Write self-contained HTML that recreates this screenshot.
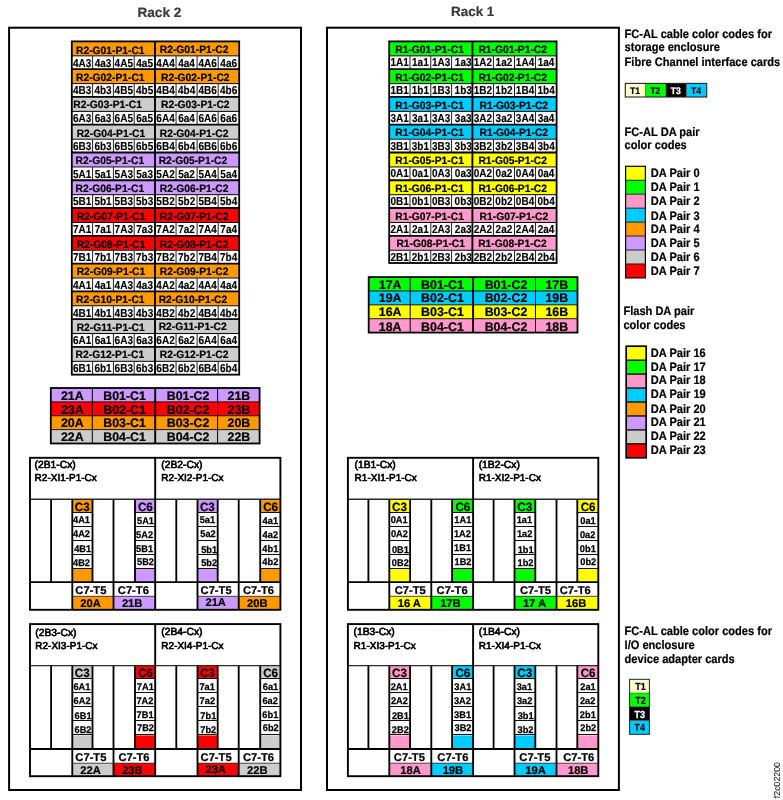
<!DOCTYPE html>
<html lang="en">
<head>
<meta charset="utf-8">
<title>FC-AL cable color codes</title>
<style>
html,body{margin:0;padding:0;background:#fff;}
body{width:783px;height:800px;overflow:hidden;}
svg{display:block;}
text{font-family:"Liberation Sans",Arial,Helvetica,sans-serif;text-rendering:geometricPrecision;}
text.b{font-weight:bold;stroke:#000;stroke-width:0.22px;}
text.w{font-weight:bold;fill:#fff;stroke:#fff;stroke-width:0.3px;}
text.t{font-weight:bold;fill:#3a3a3a;stroke:#3a3a3a;stroke-width:0.2px;}
text.r{font-weight:normal;stroke:#000;stroke-width:0.65px;}
text.f{font-weight:normal;fill:#222;stroke:#222;stroke-width:0.06px;}
text.d{font-weight:bold;stroke:#000;stroke-width:0.14px;}
text.c{font-weight:bold;stroke:#000;stroke-width:0.25px;}
</style>
</head>
<body>
<svg width="783" height="800" viewBox="0 0 783 800">
<rect x="0" y="0" width="783" height="800" fill="#fff"/>
<rect x="9.10" y="27.70" width="291.90" height="762.30" fill="#fff" stroke="#000" stroke-width="2.0"/>
<text class="t" x="159.40" y="16.70" font-size="13.6" text-anchor="middle">Rack 2</text>
<rect x="71.80" y="41.40" width="167.40" height="333.24" fill="#fff"/>
<rect x="71.80" y="41.40" width="167.40" height="14.10" fill="#ff9900"/>
<line x1="71.80" y1="55.85" x2="239.20" y2="55.85" stroke="#000" stroke-width="1.0"/>
<line x1="92.60" y1="55.90" x2="92.60" y2="69.17" stroke="#222" stroke-width="1.0"/>
<line x1="113.40" y1="55.90" x2="113.40" y2="69.17" stroke="#222" stroke-width="1.0"/>
<line x1="134.20" y1="55.90" x2="134.20" y2="69.17" stroke="#222" stroke-width="1.0"/>
<line x1="176.05" y1="55.90" x2="176.05" y2="69.17" stroke="#222" stroke-width="1.0"/>
<line x1="197.10" y1="55.90" x2="197.10" y2="69.17" stroke="#222" stroke-width="1.0"/>
<line x1="218.15" y1="55.90" x2="218.15" y2="69.17" stroke="#222" stroke-width="1.0"/>
<text class="b" font-size="10.7" text-anchor="start" transform="translate(76.00 54.00) scale(0.962 1)">R2-G01-P1-C1</text>
<text class="b" font-size="10.7" text-anchor="start" transform="translate(159.80 53.30) scale(0.962 1)">R2-G01-P1-C2</text>
<text class="d" font-size="11.5" text-anchor="middle" transform="translate(82.20 66.60) scale(0.87 1)">4A3</text>
<text class="d" font-size="11.5" text-anchor="middle" transform="translate(103.00 66.60) scale(0.87 1)">4a3</text>
<text class="d" font-size="11.5" text-anchor="middle" transform="translate(123.80 66.60) scale(0.87 1)">4A5</text>
<text class="d" font-size="11.5" text-anchor="middle" transform="translate(144.60 66.60) scale(0.87 1)">4a5</text>
<text class="d" font-size="11.5" text-anchor="middle" transform="translate(165.53 66.60) scale(0.87 1)">4A4</text>
<text class="d" font-size="11.5" text-anchor="middle" transform="translate(186.57 66.60) scale(0.87 1)">4a4</text>
<text class="d" font-size="11.5" text-anchor="middle" transform="translate(207.62 66.60) scale(0.87 1)">4A6</text>
<text class="d" font-size="11.5" text-anchor="middle" transform="translate(228.67 66.60) scale(0.87 1)">4a6</text>
<rect x="71.80" y="69.17" width="167.40" height="14.10" fill="#ff9900"/>
<line x1="71.80" y1="83.62" x2="239.20" y2="83.62" stroke="#000" stroke-width="1.0"/>
<line x1="92.60" y1="83.67" x2="92.60" y2="96.94" stroke="#222" stroke-width="1.0"/>
<line x1="113.40" y1="83.67" x2="113.40" y2="96.94" stroke="#222" stroke-width="1.0"/>
<line x1="134.20" y1="83.67" x2="134.20" y2="96.94" stroke="#222" stroke-width="1.0"/>
<line x1="176.05" y1="83.67" x2="176.05" y2="96.94" stroke="#222" stroke-width="1.0"/>
<line x1="197.10" y1="83.67" x2="197.10" y2="96.94" stroke="#222" stroke-width="1.0"/>
<line x1="218.15" y1="83.67" x2="218.15" y2="96.94" stroke="#222" stroke-width="1.0"/>
<text class="b" font-size="10.7" text-anchor="start" transform="translate(76.00 81.07) scale(0.962 1)">R2-G02-P1-C1</text>
<text class="b" font-size="10.7" text-anchor="start" transform="translate(161.00 80.87) scale(0.962 1)">R2-G02-P1-C2</text>
<text class="d" font-size="11.5" text-anchor="middle" transform="translate(82.20 94.37) scale(0.87 1)">4B3</text>
<text class="d" font-size="11.5" text-anchor="middle" transform="translate(103.00 94.37) scale(0.87 1)">4b3</text>
<text class="d" font-size="11.5" text-anchor="middle" transform="translate(123.80 94.37) scale(0.87 1)">4B5</text>
<text class="d" font-size="11.5" text-anchor="middle" transform="translate(144.60 94.37) scale(0.87 1)">4b5</text>
<text class="d" font-size="11.5" text-anchor="middle" transform="translate(165.53 94.37) scale(0.87 1)">4B4</text>
<text class="d" font-size="11.5" text-anchor="middle" transform="translate(186.57 94.37) scale(0.87 1)">4b4</text>
<text class="d" font-size="11.5" text-anchor="middle" transform="translate(207.62 94.37) scale(0.87 1)">4B6</text>
<text class="d" font-size="11.5" text-anchor="middle" transform="translate(228.67 94.37) scale(0.87 1)">4b6</text>
<rect x="71.80" y="96.94" width="167.40" height="14.10" fill="#cccccc"/>
<line x1="71.80" y1="111.39" x2="239.20" y2="111.39" stroke="#000" stroke-width="1.0"/>
<line x1="92.60" y1="111.44" x2="92.60" y2="124.71" stroke="#222" stroke-width="1.0"/>
<line x1="113.40" y1="111.44" x2="113.40" y2="124.71" stroke="#222" stroke-width="1.0"/>
<line x1="134.20" y1="111.44" x2="134.20" y2="124.71" stroke="#222" stroke-width="1.0"/>
<line x1="176.05" y1="111.44" x2="176.05" y2="124.71" stroke="#222" stroke-width="1.0"/>
<line x1="197.10" y1="111.44" x2="197.10" y2="124.71" stroke="#222" stroke-width="1.0"/>
<line x1="218.15" y1="111.44" x2="218.15" y2="124.71" stroke="#222" stroke-width="1.0"/>
<text class="b" font-size="10.7" text-anchor="start" transform="translate(73.30 108.14) scale(0.962 1)">R2-G03-P1-C1</text>
<text class="b" font-size="10.7" text-anchor="start" transform="translate(161.00 108.14) scale(0.962 1)">R2-G03-P1-C2</text>
<text class="d" font-size="11.5" text-anchor="middle" transform="translate(82.20 122.14) scale(0.87 1)">6A3</text>
<text class="d" font-size="11.5" text-anchor="middle" transform="translate(103.00 122.14) scale(0.87 1)">6a3</text>
<text class="d" font-size="11.5" text-anchor="middle" transform="translate(123.80 122.14) scale(0.87 1)">6A5</text>
<text class="d" font-size="11.5" text-anchor="middle" transform="translate(144.60 122.14) scale(0.87 1)">6a5</text>
<text class="d" font-size="11.5" text-anchor="middle" transform="translate(165.53 122.14) scale(0.87 1)">6A4</text>
<text class="d" font-size="11.5" text-anchor="middle" transform="translate(186.57 122.14) scale(0.87 1)">6a4</text>
<text class="d" font-size="11.5" text-anchor="middle" transform="translate(207.62 122.14) scale(0.87 1)">6A6</text>
<text class="d" font-size="11.5" text-anchor="middle" transform="translate(228.67 122.14) scale(0.87 1)">6a6</text>
<rect x="71.80" y="124.71" width="167.40" height="14.10" fill="#cccccc"/>
<line x1="71.80" y1="139.16" x2="239.20" y2="139.16" stroke="#000" stroke-width="1.0"/>
<line x1="92.60" y1="139.21" x2="92.60" y2="152.48" stroke="#222" stroke-width="1.0"/>
<line x1="113.40" y1="139.21" x2="113.40" y2="152.48" stroke="#222" stroke-width="1.0"/>
<line x1="134.20" y1="139.21" x2="134.20" y2="152.48" stroke="#222" stroke-width="1.0"/>
<line x1="176.05" y1="139.21" x2="176.05" y2="152.48" stroke="#222" stroke-width="1.0"/>
<line x1="197.10" y1="139.21" x2="197.10" y2="152.48" stroke="#222" stroke-width="1.0"/>
<line x1="218.15" y1="139.21" x2="218.15" y2="152.48" stroke="#222" stroke-width="1.0"/>
<text class="b" font-size="10.7" text-anchor="start" transform="translate(76.70 136.61) scale(0.962 1)">R2-G04-P1-C1</text>
<text class="b" font-size="10.7" text-anchor="start" transform="translate(159.80 136.61) scale(0.962 1)">R2-G04-P1-C2</text>
<text class="d" font-size="11.5" text-anchor="middle" transform="translate(82.20 149.91) scale(0.87 1)">6B3</text>
<text class="d" font-size="11.5" text-anchor="middle" transform="translate(103.00 149.91) scale(0.87 1)">6b3</text>
<text class="d" font-size="11.5" text-anchor="middle" transform="translate(123.80 149.91) scale(0.87 1)">6B5</text>
<text class="d" font-size="11.5" text-anchor="middle" transform="translate(144.60 149.91) scale(0.87 1)">6b5</text>
<text class="d" font-size="11.5" text-anchor="middle" transform="translate(165.53 149.91) scale(0.87 1)">6B4</text>
<text class="d" font-size="11.5" text-anchor="middle" transform="translate(186.57 149.91) scale(0.87 1)">6b4</text>
<text class="d" font-size="11.5" text-anchor="middle" transform="translate(207.62 149.91) scale(0.87 1)">6B6</text>
<text class="d" font-size="11.5" text-anchor="middle" transform="translate(228.67 149.91) scale(0.87 1)">6b6</text>
<rect x="71.80" y="152.48" width="167.40" height="14.10" fill="#cc99ff"/>
<line x1="71.80" y1="166.93" x2="239.20" y2="166.93" stroke="#000" stroke-width="1.0"/>
<line x1="92.60" y1="166.98" x2="92.60" y2="180.25" stroke="#222" stroke-width="1.0"/>
<line x1="113.40" y1="166.98" x2="113.40" y2="180.25" stroke="#222" stroke-width="1.0"/>
<line x1="134.20" y1="166.98" x2="134.20" y2="180.25" stroke="#222" stroke-width="1.0"/>
<line x1="176.05" y1="166.98" x2="176.05" y2="180.25" stroke="#222" stroke-width="1.0"/>
<line x1="197.10" y1="166.98" x2="197.10" y2="180.25" stroke="#222" stroke-width="1.0"/>
<line x1="218.15" y1="166.98" x2="218.15" y2="180.25" stroke="#222" stroke-width="1.0"/>
<text class="b" font-size="10.7" text-anchor="start" transform="translate(75.60 163.78) scale(0.962 1)">R2-G05-P1-C1</text>
<text class="b" font-size="10.7" text-anchor="start" transform="translate(158.70 164.38) scale(0.962 1)">R2-G05-P1-C2</text>
<text class="d" font-size="11.5" text-anchor="middle" transform="translate(82.20 177.68) scale(0.87 1)">5A1</text>
<text class="d" font-size="11.5" text-anchor="middle" transform="translate(103.00 177.68) scale(0.87 1)">5a1</text>
<text class="d" font-size="11.5" text-anchor="middle" transform="translate(123.80 177.68) scale(0.87 1)">5A3</text>
<text class="d" font-size="11.5" text-anchor="middle" transform="translate(144.60 177.68) scale(0.87 1)">5a3</text>
<text class="d" font-size="11.5" text-anchor="middle" transform="translate(165.53 177.68) scale(0.87 1)">5A2</text>
<text class="d" font-size="11.5" text-anchor="middle" transform="translate(186.57 177.68) scale(0.87 1)">5a2</text>
<text class="d" font-size="11.5" text-anchor="middle" transform="translate(207.62 177.68) scale(0.87 1)">5A4</text>
<text class="d" font-size="11.5" text-anchor="middle" transform="translate(228.67 177.68) scale(0.87 1)">5a4</text>
<rect x="71.80" y="180.25" width="167.40" height="14.10" fill="#cc99ff"/>
<line x1="71.80" y1="194.70" x2="239.20" y2="194.70" stroke="#000" stroke-width="1.0"/>
<line x1="92.60" y1="194.75" x2="92.60" y2="208.02" stroke="#222" stroke-width="1.0"/>
<line x1="113.40" y1="194.75" x2="113.40" y2="208.02" stroke="#222" stroke-width="1.0"/>
<line x1="134.20" y1="194.75" x2="134.20" y2="208.02" stroke="#222" stroke-width="1.0"/>
<line x1="176.05" y1="194.75" x2="176.05" y2="208.02" stroke="#222" stroke-width="1.0"/>
<line x1="197.10" y1="194.75" x2="197.10" y2="208.02" stroke="#222" stroke-width="1.0"/>
<line x1="218.15" y1="194.75" x2="218.15" y2="208.02" stroke="#222" stroke-width="1.0"/>
<text class="b" font-size="10.7" text-anchor="start" transform="translate(75.60 192.15) scale(0.962 1)">R2-G06-P1-C1</text>
<text class="b" font-size="10.7" text-anchor="start" transform="translate(159.80 192.15) scale(0.962 1)">R2-G06-P1-C2</text>
<text class="d" font-size="11.5" text-anchor="middle" transform="translate(82.20 205.45) scale(0.87 1)">5B1</text>
<text class="d" font-size="11.5" text-anchor="middle" transform="translate(103.00 205.45) scale(0.87 1)">5b1</text>
<text class="d" font-size="11.5" text-anchor="middle" transform="translate(123.80 205.45) scale(0.87 1)">5B3</text>
<text class="d" font-size="11.5" text-anchor="middle" transform="translate(144.60 205.45) scale(0.87 1)">5b3</text>
<text class="d" font-size="11.5" text-anchor="middle" transform="translate(165.53 205.45) scale(0.87 1)">5B2</text>
<text class="d" font-size="11.5" text-anchor="middle" transform="translate(186.57 205.45) scale(0.87 1)">5b2</text>
<text class="d" font-size="11.5" text-anchor="middle" transform="translate(207.62 205.45) scale(0.87 1)">5B4</text>
<text class="d" font-size="11.5" text-anchor="middle" transform="translate(228.67 205.45) scale(0.87 1)">5b4</text>
<rect x="71.80" y="208.02" width="167.40" height="14.10" fill="#ff0000"/>
<line x1="71.80" y1="222.47" x2="239.20" y2="222.47" stroke="#000" stroke-width="1.0"/>
<line x1="92.60" y1="222.52" x2="92.60" y2="235.79" stroke="#222" stroke-width="1.0"/>
<line x1="113.40" y1="222.52" x2="113.40" y2="235.79" stroke="#222" stroke-width="1.0"/>
<line x1="134.20" y1="222.52" x2="134.20" y2="235.79" stroke="#222" stroke-width="1.0"/>
<line x1="176.05" y1="222.52" x2="176.05" y2="235.79" stroke="#222" stroke-width="1.0"/>
<line x1="197.10" y1="222.52" x2="197.10" y2="235.79" stroke="#222" stroke-width="1.0"/>
<line x1="218.15" y1="222.52" x2="218.15" y2="235.79" stroke="#222" stroke-width="1.0"/>
<text class="b" font-size="10.7" text-anchor="start" transform="translate(76.70 219.92) scale(0.962 1)">R2-G07-P1-C1</text>
<text class="b" font-size="10.7" text-anchor="start" transform="translate(159.80 219.92) scale(0.962 1)">R2-G07-P1-C2</text>
<text class="d" font-size="11.5" text-anchor="middle" transform="translate(82.20 233.22) scale(0.87 1)">7A1</text>
<text class="d" font-size="11.5" text-anchor="middle" transform="translate(103.00 233.22) scale(0.87 1)">7a1</text>
<text class="d" font-size="11.5" text-anchor="middle" transform="translate(123.80 233.22) scale(0.87 1)">7A3</text>
<text class="d" font-size="11.5" text-anchor="middle" transform="translate(144.60 233.22) scale(0.87 1)">7a3</text>
<text class="d" font-size="11.5" text-anchor="middle" transform="translate(165.53 233.22) scale(0.87 1)">7A2</text>
<text class="d" font-size="11.5" text-anchor="middle" transform="translate(186.57 233.22) scale(0.87 1)">7a2</text>
<text class="d" font-size="11.5" text-anchor="middle" transform="translate(207.62 233.22) scale(0.87 1)">7A4</text>
<text class="d" font-size="11.5" text-anchor="middle" transform="translate(228.67 233.22) scale(0.87 1)">7a4</text>
<rect x="71.80" y="235.79" width="167.40" height="14.10" fill="#ff0000"/>
<line x1="71.80" y1="250.24" x2="239.20" y2="250.24" stroke="#000" stroke-width="1.0"/>
<line x1="92.60" y1="250.29" x2="92.60" y2="263.56" stroke="#222" stroke-width="1.0"/>
<line x1="113.40" y1="250.29" x2="113.40" y2="263.56" stroke="#222" stroke-width="1.0"/>
<line x1="134.20" y1="250.29" x2="134.20" y2="263.56" stroke="#222" stroke-width="1.0"/>
<line x1="176.05" y1="250.29" x2="176.05" y2="263.56" stroke="#222" stroke-width="1.0"/>
<line x1="197.10" y1="250.29" x2="197.10" y2="263.56" stroke="#222" stroke-width="1.0"/>
<line x1="218.15" y1="250.29" x2="218.15" y2="263.56" stroke="#222" stroke-width="1.0"/>
<text class="b" font-size="10.7" text-anchor="start" transform="translate(76.70 247.69) scale(0.962 1)">R2-G08-P1-C1</text>
<text class="b" font-size="10.7" text-anchor="start" transform="translate(159.80 247.69) scale(0.962 1)">R2-G08-P1-C2</text>
<text class="d" font-size="11.5" text-anchor="middle" transform="translate(82.20 260.99) scale(0.87 1)">7B1</text>
<text class="d" font-size="11.5" text-anchor="middle" transform="translate(103.00 260.99) scale(0.87 1)">7b1</text>
<text class="d" font-size="11.5" text-anchor="middle" transform="translate(123.80 260.99) scale(0.87 1)">7B3</text>
<text class="d" font-size="11.5" text-anchor="middle" transform="translate(144.60 260.99) scale(0.87 1)">7b3</text>
<text class="d" font-size="11.5" text-anchor="middle" transform="translate(165.53 260.99) scale(0.87 1)">7B2</text>
<text class="d" font-size="11.5" text-anchor="middle" transform="translate(186.57 260.99) scale(0.87 1)">7b2</text>
<text class="d" font-size="11.5" text-anchor="middle" transform="translate(207.62 260.99) scale(0.87 1)">7B4</text>
<text class="d" font-size="11.5" text-anchor="middle" transform="translate(228.67 260.99) scale(0.87 1)">7b4</text>
<rect x="71.80" y="263.56" width="167.40" height="14.10" fill="#ff9900"/>
<line x1="71.80" y1="278.01" x2="239.20" y2="278.01" stroke="#000" stroke-width="1.0"/>
<line x1="92.60" y1="278.06" x2="92.60" y2="291.33" stroke="#222" stroke-width="1.0"/>
<line x1="113.40" y1="278.06" x2="113.40" y2="291.33" stroke="#222" stroke-width="1.0"/>
<line x1="134.20" y1="278.06" x2="134.20" y2="291.33" stroke="#222" stroke-width="1.0"/>
<line x1="176.05" y1="278.06" x2="176.05" y2="291.33" stroke="#222" stroke-width="1.0"/>
<line x1="197.10" y1="278.06" x2="197.10" y2="291.33" stroke="#222" stroke-width="1.0"/>
<line x1="218.15" y1="278.06" x2="218.15" y2="291.33" stroke="#222" stroke-width="1.0"/>
<text class="b" font-size="10.7" text-anchor="start" transform="translate(76.70 275.16) scale(0.962 1)">R2-G09-P1-C1</text>
<text class="b" font-size="10.7" text-anchor="start" transform="translate(159.80 274.66) scale(0.962 1)">R2-G09-P1-C2</text>
<text class="d" font-size="11.5" text-anchor="middle" transform="translate(82.20 288.76) scale(0.87 1)">4A1</text>
<text class="d" font-size="11.5" text-anchor="middle" transform="translate(103.00 288.76) scale(0.87 1)">4a1</text>
<text class="d" font-size="11.5" text-anchor="middle" transform="translate(123.80 288.76) scale(0.87 1)">4A3</text>
<text class="d" font-size="11.5" text-anchor="middle" transform="translate(144.60 288.76) scale(0.87 1)">4a3</text>
<text class="d" font-size="11.5" text-anchor="middle" transform="translate(165.53 288.76) scale(0.87 1)">4A2</text>
<text class="d" font-size="11.5" text-anchor="middle" transform="translate(186.57 288.76) scale(0.87 1)">4a2</text>
<text class="d" font-size="11.5" text-anchor="middle" transform="translate(207.62 288.76) scale(0.87 1)">4A4</text>
<text class="d" font-size="11.5" text-anchor="middle" transform="translate(228.67 288.76) scale(0.87 1)">4a4</text>
<rect x="71.80" y="291.33" width="167.40" height="14.10" fill="#ff9900"/>
<line x1="71.80" y1="305.78" x2="239.20" y2="305.78" stroke="#000" stroke-width="1.0"/>
<line x1="92.60" y1="305.83" x2="92.60" y2="319.10" stroke="#222" stroke-width="1.0"/>
<line x1="113.40" y1="305.83" x2="113.40" y2="319.10" stroke="#222" stroke-width="1.0"/>
<line x1="134.20" y1="305.83" x2="134.20" y2="319.10" stroke="#222" stroke-width="1.0"/>
<line x1="176.05" y1="305.83" x2="176.05" y2="319.10" stroke="#222" stroke-width="1.0"/>
<line x1="197.10" y1="305.83" x2="197.10" y2="319.10" stroke="#222" stroke-width="1.0"/>
<line x1="218.15" y1="305.83" x2="218.15" y2="319.10" stroke="#222" stroke-width="1.0"/>
<text class="b" font-size="10.7" text-anchor="start" transform="translate(76.00 303.23) scale(0.962 1)">R2-G10-P1-C1</text>
<text class="b" font-size="10.7" text-anchor="start" transform="translate(158.70 302.83) scale(0.962 1)">R2-G10-P1-C2</text>
<text class="d" font-size="11.5" text-anchor="middle" transform="translate(82.20 316.53) scale(0.87 1)">4B1</text>
<text class="d" font-size="11.5" text-anchor="middle" transform="translate(103.00 316.53) scale(0.87 1)">4b1</text>
<text class="d" font-size="11.5" text-anchor="middle" transform="translate(123.80 316.53) scale(0.87 1)">4B3</text>
<text class="d" font-size="11.5" text-anchor="middle" transform="translate(144.60 316.53) scale(0.87 1)">4b3</text>
<text class="d" font-size="11.5" text-anchor="middle" transform="translate(165.53 316.53) scale(0.87 1)">4B2</text>
<text class="d" font-size="11.5" text-anchor="middle" transform="translate(186.57 316.53) scale(0.87 1)">4b2</text>
<text class="d" font-size="11.5" text-anchor="middle" transform="translate(207.62 316.53) scale(0.87 1)">4B4</text>
<text class="d" font-size="11.5" text-anchor="middle" transform="translate(228.67 316.53) scale(0.87 1)">4b4</text>
<rect x="71.80" y="319.10" width="167.40" height="14.10" fill="#cccccc"/>
<line x1="71.80" y1="333.55" x2="239.20" y2="333.55" stroke="#000" stroke-width="1.0"/>
<line x1="92.60" y1="333.60" x2="92.60" y2="346.87" stroke="#222" stroke-width="1.0"/>
<line x1="113.40" y1="333.60" x2="113.40" y2="346.87" stroke="#222" stroke-width="1.0"/>
<line x1="134.20" y1="333.60" x2="134.20" y2="346.87" stroke="#222" stroke-width="1.0"/>
<line x1="176.05" y1="333.60" x2="176.05" y2="346.87" stroke="#222" stroke-width="1.0"/>
<line x1="197.10" y1="333.60" x2="197.10" y2="346.87" stroke="#222" stroke-width="1.0"/>
<line x1="218.15" y1="333.60" x2="218.15" y2="346.87" stroke="#222" stroke-width="1.0"/>
<text class="b" font-size="10.7" text-anchor="start" transform="translate(76.70 331.00) scale(0.962 1)">R2-G11-P1-C1</text>
<text class="b" font-size="10.7" text-anchor="start" transform="translate(158.70 330.30) scale(0.962 1)">R2-G11-P1-C2</text>
<text class="d" font-size="11.5" text-anchor="middle" transform="translate(82.20 344.30) scale(0.87 1)">6A1</text>
<text class="d" font-size="11.5" text-anchor="middle" transform="translate(103.00 344.30) scale(0.87 1)">6a1</text>
<text class="d" font-size="11.5" text-anchor="middle" transform="translate(123.80 344.30) scale(0.87 1)">6A3</text>
<text class="d" font-size="11.5" text-anchor="middle" transform="translate(144.60 344.30) scale(0.87 1)">6a3</text>
<text class="d" font-size="11.5" text-anchor="middle" transform="translate(165.53 344.30) scale(0.87 1)">6A2</text>
<text class="d" font-size="11.5" text-anchor="middle" transform="translate(186.57 344.30) scale(0.87 1)">6a2</text>
<text class="d" font-size="11.5" text-anchor="middle" transform="translate(207.62 344.30) scale(0.87 1)">6A4</text>
<text class="d" font-size="11.5" text-anchor="middle" transform="translate(228.67 344.30) scale(0.87 1)">6a4</text>
<rect x="71.80" y="346.87" width="167.40" height="14.10" fill="#cccccc"/>
<line x1="71.80" y1="361.32" x2="239.20" y2="361.32" stroke="#000" stroke-width="1.0"/>
<line x1="92.60" y1="361.37" x2="92.60" y2="374.64" stroke="#222" stroke-width="1.0"/>
<line x1="113.40" y1="361.37" x2="113.40" y2="374.64" stroke="#222" stroke-width="1.0"/>
<line x1="134.20" y1="361.37" x2="134.20" y2="374.64" stroke="#222" stroke-width="1.0"/>
<line x1="176.05" y1="361.37" x2="176.05" y2="374.64" stroke="#222" stroke-width="1.0"/>
<line x1="197.10" y1="361.37" x2="197.10" y2="374.64" stroke="#222" stroke-width="1.0"/>
<line x1="218.15" y1="361.37" x2="218.15" y2="374.64" stroke="#222" stroke-width="1.0"/>
<text class="b" font-size="10.7" text-anchor="start" transform="translate(75.60 358.47) scale(0.962 1)">R2-G12-P1-C1</text>
<text class="b" font-size="10.7" text-anchor="start" transform="translate(159.80 358.17) scale(0.962 1)">R2-G12-P1-C2</text>
<text class="d" font-size="11.5" text-anchor="middle" transform="translate(82.20 372.07) scale(0.87 1)">6B1</text>
<text class="d" font-size="11.5" text-anchor="middle" transform="translate(103.00 372.07) scale(0.87 1)">6b1</text>
<text class="d" font-size="11.5" text-anchor="middle" transform="translate(123.80 372.07) scale(0.87 1)">6B3</text>
<text class="d" font-size="11.5" text-anchor="middle" transform="translate(144.60 372.07) scale(0.87 1)">6b3</text>
<text class="d" font-size="11.5" text-anchor="middle" transform="translate(165.53 372.07) scale(0.87 1)">6B2</text>
<text class="d" font-size="11.5" text-anchor="middle" transform="translate(186.57 372.07) scale(0.87 1)">6b2</text>
<text class="d" font-size="11.5" text-anchor="middle" transform="translate(207.62 372.07) scale(0.87 1)">6B4</text>
<text class="d" font-size="11.5" text-anchor="middle" transform="translate(228.67 372.07) scale(0.87 1)">6b4</text>
<line x1="71.80" y1="69.17" x2="239.20" y2="69.17" stroke="#000" stroke-width="1.8"/>
<line x1="71.80" y1="96.94" x2="239.20" y2="96.94" stroke="#000" stroke-width="1.8"/>
<line x1="71.80" y1="124.71" x2="239.20" y2="124.71" stroke="#000" stroke-width="1.8"/>
<line x1="71.80" y1="152.48" x2="239.20" y2="152.48" stroke="#000" stroke-width="1.8"/>
<line x1="71.80" y1="180.25" x2="239.20" y2="180.25" stroke="#000" stroke-width="1.8"/>
<line x1="71.80" y1="208.02" x2="239.20" y2="208.02" stroke="#000" stroke-width="1.8"/>
<line x1="71.80" y1="235.79" x2="239.20" y2="235.79" stroke="#000" stroke-width="1.8"/>
<line x1="71.80" y1="263.56" x2="239.20" y2="263.56" stroke="#000" stroke-width="1.8"/>
<line x1="71.80" y1="291.33" x2="239.20" y2="291.33" stroke="#000" stroke-width="1.8"/>
<line x1="71.80" y1="319.10" x2="239.20" y2="319.10" stroke="#000" stroke-width="1.8"/>
<line x1="71.80" y1="346.87" x2="239.20" y2="346.87" stroke="#000" stroke-width="1.8"/>
<line x1="155.00" y1="41.40" x2="155.00" y2="374.64" stroke="#000" stroke-width="1.9"/>
<rect x="71.80" y="41.40" width="167.40" height="333.24" fill="none" stroke="#000" stroke-width="1.8"/>
<rect x="50.80" y="388.00" width="208.80" height="13.87" fill="#cc99ff"/>
<text class="b" x="72.25" y="399.90" font-size="12.4" text-anchor="middle">21A</text>
<text class="b" x="124.55" y="399.90" font-size="12.4" text-anchor="middle">B01-C1</text>
<text class="b" x="188.10" y="399.90" font-size="12.4" text-anchor="middle">B01-C2</text>
<text class="b" x="238.90" y="399.90" font-size="12.4" text-anchor="middle">21B</text>
<rect x="50.80" y="401.87" width="208.80" height="13.87" fill="#ff0000"/>
<text class="b" x="72.25" y="413.77" font-size="12.4" text-anchor="middle">23A</text>
<text class="b" x="124.55" y="413.77" font-size="12.4" text-anchor="middle">B02-C1</text>
<text class="b" x="188.10" y="413.77" font-size="12.4" text-anchor="middle">B02-C2</text>
<text class="b" x="238.90" y="413.77" font-size="12.4" text-anchor="middle">23B</text>
<rect x="50.80" y="415.74" width="208.80" height="13.87" fill="#ff9900"/>
<text class="b" x="72.25" y="427.34" font-size="12.4" text-anchor="middle">20A</text>
<text class="b" x="124.55" y="427.34" font-size="12.4" text-anchor="middle">B03-C1</text>
<text class="b" x="188.10" y="427.34" font-size="12.4" text-anchor="middle">B03-C2</text>
<text class="b" x="238.90" y="427.34" font-size="12.4" text-anchor="middle">20B</text>
<rect x="50.80" y="429.61" width="208.80" height="13.87" fill="#cccccc"/>
<text class="b" x="72.25" y="441.11" font-size="12.4" text-anchor="middle">22A</text>
<text class="b" x="124.55" y="441.11" font-size="12.4" text-anchor="middle">B04-C1</text>
<text class="b" x="188.10" y="441.11" font-size="12.4" text-anchor="middle">B04-C2</text>
<text class="b" x="238.90" y="441.11" font-size="12.4" text-anchor="middle">22B</text>
<line x1="50.80" y1="401.87" x2="259.60" y2="401.87" stroke="#000" stroke-width="0.9"/>
<line x1="50.80" y1="415.74" x2="259.60" y2="415.74" stroke="#000" stroke-width="0.9"/>
<line x1="50.80" y1="429.61" x2="259.60" y2="429.61" stroke="#000" stroke-width="0.9"/>
<line x1="92.30" y1="388.00" x2="92.30" y2="443.48" stroke="#000" stroke-width="1.0"/>
<line x1="217.60" y1="388.00" x2="217.60" y2="443.48" stroke="#000" stroke-width="1.0"/>
<line x1="155.20" y1="388.00" x2="155.20" y2="443.48" stroke="#000" stroke-width="1.9"/>
<rect x="50.80" y="388.00" width="208.80" height="55.48" fill="none" stroke="#000" stroke-width="1.8"/>
<rect x="30.00" y="457.80" width="250.40" height="152.00" fill="#fff"/>
<text class="r" x="34.60" y="468.40" font-size="10.3">(2B1-Cx)</text>
<text class="r" x="34.60" y="480.60" font-size="10.0">R2-XI1-P1-Cx</text>
<rect x="72.30" y="499.30" width="20.20" height="13.40" fill="#ff9900"/>
<rect x="72.30" y="568.50" width="20.20" height="13.60" fill="#ff9900"/>
<text class="b" font-size="12.1" text-anchor="middle" transform="translate(82.20 510.80) scale(0.96 1)">C3</text>
<line x1="72.30" y1="512.50" x2="92.50" y2="512.50" stroke="#111" stroke-width="1.0"/>
<line x1="72.30" y1="526.50" x2="92.50" y2="526.50" stroke="#111" stroke-width="1.0"/>
<line x1="72.30" y1="540.50" x2="92.50" y2="540.50" stroke="#111" stroke-width="1.0"/>
<line x1="72.30" y1="554.50" x2="92.50" y2="554.50" stroke="#111" stroke-width="1.0"/>
<line x1="72.30" y1="568.50" x2="92.50" y2="568.50" stroke="#111" stroke-width="1.0"/>
<text class="c" font-size="9.7" text-anchor="middle" transform="translate(81.50 523.40) scale(0.955 1)">4A1</text>
<text class="c" font-size="9.7" text-anchor="middle" transform="translate(81.50 537.20) scale(0.955 1)">4A2</text>
<text class="c" font-size="9.7" text-anchor="middle" transform="translate(82.70 551.80) scale(0.955 1)">4B1</text>
<text class="c" font-size="9.7" text-anchor="middle" transform="translate(81.50 565.80) scale(0.955 1)">4B2</text>
<rect x="135.00" y="499.30" width="20.20" height="13.40" fill="#cc99ff"/>
<rect x="135.00" y="568.50" width="20.20" height="13.60" fill="#cc99ff"/>
<text class="b" font-size="12.1" text-anchor="middle" transform="translate(145.40 510.80) scale(0.96 1)">C6</text>
<line x1="135.00" y1="512.50" x2="155.20" y2="512.50" stroke="#111" stroke-width="1.0"/>
<line x1="135.00" y1="526.50" x2="155.20" y2="526.50" stroke="#111" stroke-width="1.0"/>
<line x1="135.00" y1="540.50" x2="155.20" y2="540.50" stroke="#111" stroke-width="1.0"/>
<line x1="135.00" y1="554.50" x2="155.20" y2="554.50" stroke="#111" stroke-width="1.0"/>
<line x1="135.00" y1="568.50" x2="155.20" y2="568.50" stroke="#111" stroke-width="1.0"/>
<text class="c" font-size="9.7" text-anchor="middle" transform="translate(145.50 523.70) scale(0.955 1)">5A1</text>
<text class="c" font-size="9.7" text-anchor="middle" transform="translate(144.60 537.70) scale(0.955 1)">5A2</text>
<text class="c" font-size="9.7" text-anchor="middle" transform="translate(144.60 551.60) scale(0.955 1)">5B1</text>
<text class="c" font-size="9.7" text-anchor="middle" transform="translate(145.50 565.10) scale(0.955 1)">5B2</text>
<line x1="51.10" y1="499.30" x2="51.10" y2="582.10" stroke="#000" stroke-width="1.85"/>
<line x1="72.30" y1="499.30" x2="72.30" y2="582.10" stroke="#000" stroke-width="1.85"/>
<line x1="92.50" y1="499.30" x2="92.50" y2="582.10" stroke="#000" stroke-width="1.85"/>
<line x1="113.50" y1="499.30" x2="113.50" y2="582.10" stroke="#000" stroke-width="1.85"/>
<line x1="135.00" y1="499.30" x2="135.00" y2="582.10" stroke="#000" stroke-width="1.85"/>
<rect x="72.30" y="596.30" width="41.20" height="13.50" fill="#ff9900"/>
<line x1="72.30" y1="596.30" x2="113.50" y2="596.30" stroke="#000" stroke-width="0.7"/>
<text class="b" x="90.90" y="593.70" font-size="11.2" text-anchor="middle">C7-T5</text>
<text class="b" x="90.50" y="607.10" font-size="11.2" text-anchor="middle">20A</text>
<rect x="113.50" y="596.30" width="41.70" height="13.50" fill="#cc99ff"/>
<line x1="113.50" y1="596.30" x2="155.20" y2="596.30" stroke="#000" stroke-width="0.7"/>
<text class="b" x="133.35" y="593.70" font-size="11.2" text-anchor="middle">C7-T6</text>
<text class="b" x="132.15" y="607.10" font-size="11.2" text-anchor="middle">21B</text>
<line x1="72.30" y1="582.10" x2="72.30" y2="609.80" stroke="#000" stroke-width="1.85"/>
<line x1="113.50" y1="582.10" x2="113.50" y2="609.80" stroke="#000" stroke-width="1.85"/>
<text class="r" x="161.30" y="468.40" font-size="10.3">(2B2-Cx)</text>
<text class="r" x="161.30" y="480.60" font-size="10.0">R2-XI2-P1-Cx</text>
<rect x="197.50" y="499.30" width="20.20" height="13.40" fill="#cc99ff"/>
<rect x="197.50" y="568.50" width="20.20" height="13.60" fill="#cc99ff"/>
<text class="b" font-size="12.1" text-anchor="middle" transform="translate(207.40 510.80) scale(0.96 1)">C3</text>
<line x1="197.50" y1="512.50" x2="217.70" y2="512.50" stroke="#111" stroke-width="1.0"/>
<line x1="197.50" y1="526.50" x2="217.70" y2="526.50" stroke="#111" stroke-width="1.0"/>
<line x1="197.50" y1="540.50" x2="217.70" y2="540.50" stroke="#111" stroke-width="1.0"/>
<line x1="197.50" y1="554.50" x2="217.70" y2="554.50" stroke="#111" stroke-width="1.0"/>
<line x1="197.50" y1="568.50" x2="217.70" y2="568.50" stroke="#111" stroke-width="1.0"/>
<text class="c" font-size="9.7" text-anchor="middle" transform="translate(207.40 523.40) scale(0.955 1)">5a1</text>
<text class="c" font-size="9.7" text-anchor="middle" transform="translate(208.00 537.20) scale(0.955 1)">5a2</text>
<text class="c" font-size="9.7" text-anchor="middle" transform="translate(209.10 552.60) scale(0.955 1)">5b1</text>
<text class="c" font-size="9.7" text-anchor="middle" transform="translate(209.10 566.20) scale(0.955 1)">5b2</text>
<rect x="260.20" y="499.30" width="20.20" height="13.40" fill="#ff9900"/>
<rect x="260.20" y="568.50" width="20.20" height="13.60" fill="#ff9900"/>
<text class="b" font-size="12.1" text-anchor="middle" transform="translate(270.60 510.80) scale(0.96 1)">C6</text>
<line x1="260.20" y1="512.50" x2="280.40" y2="512.50" stroke="#111" stroke-width="1.0"/>
<line x1="260.20" y1="526.50" x2="280.40" y2="526.50" stroke="#111" stroke-width="1.0"/>
<line x1="260.20" y1="540.50" x2="280.40" y2="540.50" stroke="#111" stroke-width="1.0"/>
<line x1="260.20" y1="554.50" x2="280.40" y2="554.50" stroke="#111" stroke-width="1.0"/>
<line x1="260.20" y1="568.50" x2="280.40" y2="568.50" stroke="#111" stroke-width="1.0"/>
<text class="c" font-size="9.7" text-anchor="middle" transform="translate(270.30 523.70) scale(0.955 1)">4a1</text>
<text class="c" font-size="9.7" text-anchor="middle" transform="translate(270.30 537.70) scale(0.955 1)">4a2</text>
<text class="c" font-size="9.7" text-anchor="middle" transform="translate(270.30 551.60) scale(0.955 1)">4b1</text>
<text class="c" font-size="9.7" text-anchor="middle" transform="translate(270.30 565.10) scale(0.955 1)">4b2</text>
<line x1="176.30" y1="499.30" x2="176.30" y2="582.10" stroke="#000" stroke-width="1.85"/>
<line x1="197.50" y1="499.30" x2="197.50" y2="582.10" stroke="#000" stroke-width="1.85"/>
<line x1="217.70" y1="499.30" x2="217.70" y2="582.10" stroke="#000" stroke-width="1.85"/>
<line x1="238.70" y1="499.30" x2="238.70" y2="582.10" stroke="#000" stroke-width="1.85"/>
<line x1="260.20" y1="499.30" x2="260.20" y2="582.10" stroke="#000" stroke-width="1.85"/>
<rect x="197.50" y="596.30" width="41.20" height="13.50" fill="#cc99ff"/>
<line x1="197.50" y1="596.30" x2="238.70" y2="596.30" stroke="#000" stroke-width="0.7"/>
<text class="b" x="216.10" y="593.70" font-size="11.2" text-anchor="middle">C7-T5</text>
<text class="b" x="215.70" y="606.30" font-size="11.2" text-anchor="middle">21A</text>
<rect x="238.70" y="596.30" width="41.70" height="13.50" fill="#ff9900"/>
<line x1="238.70" y1="596.30" x2="280.40" y2="596.30" stroke="#000" stroke-width="0.7"/>
<text class="b" x="258.55" y="593.70" font-size="11.2" text-anchor="middle">C7-T6</text>
<text class="b" x="257.35" y="607.10" font-size="11.2" text-anchor="middle">20B</text>
<line x1="197.50" y1="582.10" x2="197.50" y2="609.80" stroke="#000" stroke-width="1.85"/>
<line x1="238.70" y1="582.10" x2="238.70" y2="609.80" stroke="#000" stroke-width="1.85"/>
<line x1="30.00" y1="499.30" x2="280.40" y2="499.30" stroke="#2a2a2a" stroke-width="1.4"/>
<line x1="30.00" y1="582.10" x2="280.40" y2="582.10" stroke="#000" stroke-width="1.9"/>
<line x1="155.20" y1="457.80" x2="155.20" y2="609.80" stroke="#000" stroke-width="1.9"/>
<rect x="30.00" y="457.80" width="250.40" height="152.00" fill="none" stroke="#000" stroke-width="1.9"/>
<rect x="30.00" y="624.10" width="250.40" height="152.10" fill="#fff"/>
<text class="r" x="35.30" y="635.80" font-size="10.3">(2B3-Cx)</text>
<text class="r" x="35.30" y="649.10" font-size="10.0">R2-XI3-P1-Cx</text>
<rect x="72.30" y="665.60" width="20.20" height="13.40" fill="#cccccc"/>
<rect x="72.30" y="735.40" width="20.20" height="13.60" fill="#cccccc"/>
<text class="b" font-size="12.1" text-anchor="middle" transform="translate(82.20 677.10) scale(0.96 1)">C3</text>
<line x1="72.30" y1="678.50" x2="92.50" y2="678.50" stroke="#111" stroke-width="1.0"/>
<line x1="72.30" y1="692.50" x2="92.50" y2="692.50" stroke="#111" stroke-width="1.0"/>
<line x1="72.30" y1="706.50" x2="92.50" y2="706.50" stroke="#111" stroke-width="1.0"/>
<line x1="72.30" y1="720.50" x2="92.50" y2="720.50" stroke="#111" stroke-width="1.0"/>
<line x1="72.30" y1="734.50" x2="92.50" y2="734.50" stroke="#111" stroke-width="1.0"/>
<text class="c" font-size="9.7" text-anchor="middle" transform="translate(81.90 689.70) scale(0.955 1)">6A1</text>
<text class="c" font-size="9.7" text-anchor="middle" transform="translate(82.10 703.50) scale(0.955 1)">6A2</text>
<text class="c" font-size="9.7" text-anchor="middle" transform="translate(83.10 718.90) scale(0.955 1)">6B1</text>
<text class="c" font-size="9.7" text-anchor="middle" transform="translate(83.00 732.50) scale(0.955 1)">6B2</text>
<rect x="135.00" y="665.60" width="20.20" height="13.40" fill="#ff0000"/>
<rect x="135.00" y="735.40" width="20.20" height="13.60" fill="#ff0000"/>
<text class="b" font-size="12.1" text-anchor="middle" transform="translate(145.40 677.10) scale(0.96 1)">C6</text>
<line x1="135.00" y1="678.50" x2="155.20" y2="678.50" stroke="#111" stroke-width="1.0"/>
<line x1="135.00" y1="692.50" x2="155.20" y2="692.50" stroke="#111" stroke-width="1.0"/>
<line x1="135.00" y1="706.50" x2="155.20" y2="706.50" stroke="#111" stroke-width="1.0"/>
<line x1="135.00" y1="720.50" x2="155.20" y2="720.50" stroke="#111" stroke-width="1.0"/>
<line x1="135.00" y1="734.50" x2="155.20" y2="734.50" stroke="#111" stroke-width="1.0"/>
<text class="c" font-size="9.7" text-anchor="middle" transform="translate(145.30 690.00) scale(0.955 1)">7A1</text>
<text class="c" font-size="9.7" text-anchor="middle" transform="translate(144.90 704.00) scale(0.955 1)">7A2</text>
<text class="c" font-size="9.7" text-anchor="middle" transform="translate(145.10 717.90) scale(0.955 1)">7B1</text>
<text class="c" font-size="9.7" text-anchor="middle" transform="translate(145.50 731.40) scale(0.955 1)">7B2</text>
<line x1="51.10" y1="665.60" x2="51.10" y2="749.00" stroke="#000" stroke-width="1.85"/>
<line x1="72.30" y1="665.60" x2="72.30" y2="749.00" stroke="#000" stroke-width="1.85"/>
<line x1="92.50" y1="665.60" x2="92.50" y2="749.00" stroke="#000" stroke-width="1.85"/>
<line x1="113.50" y1="665.60" x2="113.50" y2="749.00" stroke="#000" stroke-width="1.85"/>
<line x1="135.00" y1="665.60" x2="135.00" y2="749.00" stroke="#000" stroke-width="1.85"/>
<rect x="72.30" y="763.20" width="41.20" height="13.00" fill="#cccccc"/>
<line x1="72.30" y1="763.20" x2="113.50" y2="763.20" stroke="#000" stroke-width="0.7"/>
<text class="b" x="90.90" y="760.60" font-size="11.2" text-anchor="middle">C7-T5</text>
<text class="b" x="90.50" y="774.00" font-size="11.2" text-anchor="middle">22A</text>
<rect x="113.50" y="763.20" width="41.70" height="13.00" fill="#ff0000"/>
<line x1="113.50" y1="763.20" x2="155.20" y2="763.20" stroke="#000" stroke-width="0.7"/>
<text class="b" x="134.05" y="760.60" font-size="11.2" text-anchor="middle">C7-T6</text>
<text class="b" x="132.15" y="774.00" font-size="11.2" text-anchor="middle">23B</text>
<line x1="72.30" y1="749.00" x2="72.30" y2="776.20" stroke="#000" stroke-width="1.85"/>
<line x1="113.50" y1="749.00" x2="113.50" y2="776.20" stroke="#000" stroke-width="1.85"/>
<text class="r" x="161.30" y="635.30" font-size="10.3">(2B4-Cx)</text>
<text class="r" x="161.30" y="649.10" font-size="10.0">R2-XI4-P1-Cx</text>
<rect x="197.50" y="665.60" width="20.20" height="13.40" fill="#ff0000"/>
<rect x="197.50" y="735.40" width="20.20" height="13.60" fill="#ff0000"/>
<text class="b" font-size="12.1" text-anchor="middle" transform="translate(207.40 677.10) scale(0.96 1)">C3</text>
<line x1="197.50" y1="678.50" x2="217.70" y2="678.50" stroke="#111" stroke-width="1.0"/>
<line x1="197.50" y1="692.50" x2="217.70" y2="692.50" stroke="#111" stroke-width="1.0"/>
<line x1="197.50" y1="706.50" x2="217.70" y2="706.50" stroke="#111" stroke-width="1.0"/>
<line x1="197.50" y1="720.50" x2="217.70" y2="720.50" stroke="#111" stroke-width="1.0"/>
<line x1="197.50" y1="734.50" x2="217.70" y2="734.50" stroke="#111" stroke-width="1.0"/>
<text class="c" font-size="9.7" text-anchor="middle" transform="translate(207.10 689.70) scale(0.955 1)">7a1</text>
<text class="c" font-size="9.7" text-anchor="middle" transform="translate(207.30 703.50) scale(0.955 1)">7a2</text>
<text class="c" font-size="9.7" text-anchor="middle" transform="translate(208.30 718.90) scale(0.955 1)">7b1</text>
<text class="c" font-size="9.7" text-anchor="middle" transform="translate(208.20 732.50) scale(0.955 1)">7b2</text>
<rect x="260.20" y="665.60" width="20.20" height="13.40" fill="#cccccc"/>
<rect x="260.20" y="735.40" width="20.20" height="13.60" fill="#cccccc"/>
<text class="b" font-size="12.1" text-anchor="middle" transform="translate(270.60 677.10) scale(0.96 1)">C6</text>
<line x1="260.20" y1="678.50" x2="280.40" y2="678.50" stroke="#111" stroke-width="1.0"/>
<line x1="260.20" y1="692.50" x2="280.40" y2="692.50" stroke="#111" stroke-width="1.0"/>
<line x1="260.20" y1="706.50" x2="280.40" y2="706.50" stroke="#111" stroke-width="1.0"/>
<line x1="260.20" y1="720.50" x2="280.40" y2="720.50" stroke="#111" stroke-width="1.0"/>
<line x1="260.20" y1="734.50" x2="280.40" y2="734.50" stroke="#111" stroke-width="1.0"/>
<text class="c" font-size="9.7" text-anchor="middle" transform="translate(270.50 690.00) scale(0.955 1)">6a1</text>
<text class="c" font-size="9.7" text-anchor="middle" transform="translate(270.10 704.00) scale(0.955 1)">6a2</text>
<text class="c" font-size="9.7" text-anchor="middle" transform="translate(270.30 717.90) scale(0.955 1)">6b1</text>
<text class="c" font-size="9.7" text-anchor="middle" transform="translate(270.70 731.40) scale(0.955 1)">6b2</text>
<line x1="176.30" y1="665.60" x2="176.30" y2="749.00" stroke="#000" stroke-width="1.85"/>
<line x1="197.50" y1="665.60" x2="197.50" y2="749.00" stroke="#000" stroke-width="1.85"/>
<line x1="217.70" y1="665.60" x2="217.70" y2="749.00" stroke="#000" stroke-width="1.85"/>
<line x1="238.70" y1="665.60" x2="238.70" y2="749.00" stroke="#000" stroke-width="1.85"/>
<line x1="260.20" y1="665.60" x2="260.20" y2="749.00" stroke="#000" stroke-width="1.85"/>
<rect x="197.50" y="763.20" width="41.20" height="13.00" fill="#ff0000"/>
<line x1="197.50" y1="763.20" x2="238.70" y2="763.20" stroke="#000" stroke-width="0.7"/>
<text class="b" x="216.10" y="760.60" font-size="11.2" text-anchor="middle">C7-T5</text>
<text class="b" x="215.70" y="773.20" font-size="11.2" text-anchor="middle">23A</text>
<rect x="238.70" y="763.20" width="41.70" height="13.00" fill="#cccccc"/>
<line x1="238.70" y1="763.20" x2="280.40" y2="763.20" stroke="#000" stroke-width="0.7"/>
<text class="b" x="258.55" y="760.60" font-size="11.2" text-anchor="middle">C7-T6</text>
<text class="b" x="257.35" y="774.00" font-size="11.2" text-anchor="middle">22B</text>
<line x1="197.50" y1="749.00" x2="197.50" y2="776.20" stroke="#000" stroke-width="1.85"/>
<line x1="238.70" y1="749.00" x2="238.70" y2="776.20" stroke="#000" stroke-width="1.85"/>
<line x1="30.00" y1="665.60" x2="280.40" y2="665.60" stroke="#2a2a2a" stroke-width="1.4"/>
<line x1="30.00" y1="749.00" x2="280.40" y2="749.00" stroke="#000" stroke-width="1.9"/>
<line x1="155.20" y1="624.10" x2="155.20" y2="776.20" stroke="#000" stroke-width="1.9"/>
<rect x="30.00" y="624.10" width="250.40" height="152.10" fill="none" stroke="#000" stroke-width="1.9"/>
<rect x="327.00" y="27.70" width="291.90" height="762.30" fill="#fff" stroke="#000" stroke-width="2.0"/>
<text class="t" x="472.70" y="16.20" font-size="13.4" text-anchor="middle">Rack 1</text>
<rect x="389.20" y="41.40" width="167.40" height="221.60" fill="#fff"/>
<rect x="389.20" y="41.40" width="167.40" height="14.10" fill="#00ff00"/>
<line x1="389.20" y1="55.85" x2="556.60" y2="55.85" stroke="#000" stroke-width="1.0"/>
<line x1="410.00" y1="55.90" x2="410.00" y2="69.17" stroke="#222" stroke-width="1.0"/>
<line x1="430.80" y1="55.90" x2="430.80" y2="69.17" stroke="#222" stroke-width="1.0"/>
<line x1="451.60" y1="55.90" x2="451.60" y2="69.17" stroke="#222" stroke-width="1.0"/>
<line x1="493.45" y1="55.90" x2="493.45" y2="69.17" stroke="#222" stroke-width="1.0"/>
<line x1="514.50" y1="55.90" x2="514.50" y2="69.17" stroke="#222" stroke-width="1.0"/>
<line x1="535.55" y1="55.90" x2="535.55" y2="69.17" stroke="#222" stroke-width="1.0"/>
<text class="b" font-size="10.7" text-anchor="start" transform="translate(395.30 53.00) scale(0.962 1)">R1-G01-P1-C1</text>
<text class="b" font-size="10.7" text-anchor="start" transform="translate(478.40 53.00) scale(0.962 1)">R1-G01-P1-C2</text>
<text class="d" font-size="11.5" text-anchor="middle" transform="translate(399.60 66.30) scale(0.87 1)">1A1</text>
<text class="d" font-size="11.5" text-anchor="middle" transform="translate(420.40 66.30) scale(0.87 1)">1a1</text>
<text class="d" font-size="11.5" text-anchor="middle" transform="translate(441.20 66.30) scale(0.87 1)">1A3</text>
<text class="d" font-size="11.5" text-anchor="middle" transform="translate(463.20 66.30) scale(0.87 1)">1a3</text>
<text class="d" font-size="11.5" text-anchor="middle" transform="translate(482.92 66.30) scale(0.87 1)">1A2</text>
<text class="d" font-size="11.5" text-anchor="middle" transform="translate(503.97 66.30) scale(0.87 1)">1a2</text>
<text class="d" font-size="11.5" text-anchor="middle" transform="translate(525.02 66.30) scale(0.87 1)">1A4</text>
<text class="d" font-size="11.5" text-anchor="middle" transform="translate(546.07 66.30) scale(0.87 1)">1a4</text>
<rect x="389.20" y="69.17" width="167.40" height="14.10" fill="#00ff00"/>
<line x1="389.20" y1="83.62" x2="556.60" y2="83.62" stroke="#000" stroke-width="1.0"/>
<line x1="410.00" y1="83.67" x2="410.00" y2="96.94" stroke="#222" stroke-width="1.0"/>
<line x1="430.80" y1="83.67" x2="430.80" y2="96.94" stroke="#222" stroke-width="1.0"/>
<line x1="451.60" y1="83.67" x2="451.60" y2="96.94" stroke="#222" stroke-width="1.0"/>
<line x1="493.45" y1="83.67" x2="493.45" y2="96.94" stroke="#222" stroke-width="1.0"/>
<line x1="514.50" y1="83.67" x2="514.50" y2="96.94" stroke="#222" stroke-width="1.0"/>
<line x1="535.55" y1="83.67" x2="535.55" y2="96.94" stroke="#222" stroke-width="1.0"/>
<text class="b" font-size="10.7" text-anchor="start" transform="translate(395.30 80.77) scale(0.962 1)">R1-G02-P1-C1</text>
<text class="b" font-size="10.7" text-anchor="start" transform="translate(478.40 80.77) scale(0.962 1)">R1-G02-P1-C2</text>
<text class="d" font-size="11.5" text-anchor="middle" transform="translate(399.60 94.07) scale(0.87 1)">1B1</text>
<text class="d" font-size="11.5" text-anchor="middle" transform="translate(420.40 94.07) scale(0.87 1)">1b1</text>
<text class="d" font-size="11.5" text-anchor="middle" transform="translate(441.20 94.07) scale(0.87 1)">1B3</text>
<text class="d" font-size="11.5" text-anchor="middle" transform="translate(463.20 94.07) scale(0.87 1)">1b3</text>
<text class="d" font-size="11.5" text-anchor="middle" transform="translate(482.92 94.07) scale(0.87 1)">1B2</text>
<text class="d" font-size="11.5" text-anchor="middle" transform="translate(503.97 94.07) scale(0.87 1)">1b2</text>
<text class="d" font-size="11.5" text-anchor="middle" transform="translate(525.02 94.07) scale(0.87 1)">1B4</text>
<text class="d" font-size="11.5" text-anchor="middle" transform="translate(546.07 94.07) scale(0.87 1)">1b4</text>
<rect x="389.20" y="96.94" width="167.40" height="14.10" fill="#00ccff"/>
<line x1="389.20" y1="111.39" x2="556.60" y2="111.39" stroke="#000" stroke-width="1.0"/>
<line x1="410.00" y1="111.44" x2="410.00" y2="124.71" stroke="#222" stroke-width="1.0"/>
<line x1="430.80" y1="111.44" x2="430.80" y2="124.71" stroke="#222" stroke-width="1.0"/>
<line x1="451.60" y1="111.44" x2="451.60" y2="124.71" stroke="#222" stroke-width="1.0"/>
<line x1="493.45" y1="111.44" x2="493.45" y2="124.71" stroke="#222" stroke-width="1.0"/>
<line x1="514.50" y1="111.44" x2="514.50" y2="124.71" stroke="#222" stroke-width="1.0"/>
<line x1="535.55" y1="111.44" x2="535.55" y2="124.71" stroke="#222" stroke-width="1.0"/>
<text class="b" font-size="10.7" text-anchor="start" transform="translate(395.30 108.54) scale(0.962 1)">R1-G03-P1-C1</text>
<text class="b" font-size="10.7" text-anchor="start" transform="translate(479.50 108.54) scale(0.962 1)">R1-G03-P1-C2</text>
<text class="d" font-size="11.5" text-anchor="middle" transform="translate(399.60 121.84) scale(0.87 1)">3A1</text>
<text class="d" font-size="11.5" text-anchor="middle" transform="translate(420.40 121.84) scale(0.87 1)">3a1</text>
<text class="d" font-size="11.5" text-anchor="middle" transform="translate(441.20 121.84) scale(0.87 1)">3A3</text>
<text class="d" font-size="11.5" text-anchor="middle" transform="translate(463.20 121.84) scale(0.87 1)">3a3</text>
<text class="d" font-size="11.5" text-anchor="middle" transform="translate(482.92 121.84) scale(0.87 1)">3A2</text>
<text class="d" font-size="11.5" text-anchor="middle" transform="translate(503.97 121.84) scale(0.87 1)">3a2</text>
<text class="d" font-size="11.5" text-anchor="middle" transform="translate(525.02 121.84) scale(0.87 1)">3A4</text>
<text class="d" font-size="11.5" text-anchor="middle" transform="translate(546.07 121.84) scale(0.87 1)">3a4</text>
<rect x="389.20" y="124.71" width="167.40" height="14.10" fill="#00ccff"/>
<line x1="389.20" y1="139.16" x2="556.60" y2="139.16" stroke="#000" stroke-width="1.0"/>
<line x1="410.00" y1="139.21" x2="410.00" y2="152.48" stroke="#222" stroke-width="1.0"/>
<line x1="430.80" y1="139.21" x2="430.80" y2="152.48" stroke="#222" stroke-width="1.0"/>
<line x1="451.60" y1="139.21" x2="451.60" y2="152.48" stroke="#222" stroke-width="1.0"/>
<line x1="493.45" y1="139.21" x2="493.45" y2="152.48" stroke="#222" stroke-width="1.0"/>
<line x1="514.50" y1="139.21" x2="514.50" y2="152.48" stroke="#222" stroke-width="1.0"/>
<line x1="535.55" y1="139.21" x2="535.55" y2="152.48" stroke="#222" stroke-width="1.0"/>
<text class="b" font-size="10.7" text-anchor="start" transform="translate(395.30 136.31) scale(0.962 1)">R1-G04-P1-C1</text>
<text class="b" font-size="10.7" text-anchor="start" transform="translate(479.50 136.31) scale(0.962 1)">R1-G04-P1-C2</text>
<text class="d" font-size="11.5" text-anchor="middle" transform="translate(399.60 149.61) scale(0.87 1)">3B1</text>
<text class="d" font-size="11.5" text-anchor="middle" transform="translate(420.40 149.61) scale(0.87 1)">3b1</text>
<text class="d" font-size="11.5" text-anchor="middle" transform="translate(441.20 149.61) scale(0.87 1)">3B3</text>
<text class="d" font-size="11.5" text-anchor="middle" transform="translate(463.20 149.61) scale(0.87 1)">3b3</text>
<text class="d" font-size="11.5" text-anchor="middle" transform="translate(482.92 149.61) scale(0.87 1)">3B2</text>
<text class="d" font-size="11.5" text-anchor="middle" transform="translate(503.97 149.61) scale(0.87 1)">3b2</text>
<text class="d" font-size="11.5" text-anchor="middle" transform="translate(525.02 149.61) scale(0.87 1)">3B4</text>
<text class="d" font-size="11.5" text-anchor="middle" transform="translate(546.07 149.61) scale(0.87 1)">3b4</text>
<rect x="389.20" y="152.48" width="167.40" height="14.10" fill="#ffff00"/>
<line x1="389.20" y1="166.93" x2="556.60" y2="166.93" stroke="#000" stroke-width="1.0"/>
<line x1="410.00" y1="166.98" x2="410.00" y2="180.25" stroke="#222" stroke-width="1.0"/>
<line x1="430.80" y1="166.98" x2="430.80" y2="180.25" stroke="#222" stroke-width="1.0"/>
<line x1="451.60" y1="166.98" x2="451.60" y2="180.25" stroke="#222" stroke-width="1.0"/>
<line x1="493.45" y1="166.98" x2="493.45" y2="180.25" stroke="#222" stroke-width="1.0"/>
<line x1="514.50" y1="166.98" x2="514.50" y2="180.25" stroke="#222" stroke-width="1.0"/>
<line x1="535.55" y1="166.98" x2="535.55" y2="180.25" stroke="#222" stroke-width="1.0"/>
<text class="b" font-size="10.7" text-anchor="start" transform="translate(395.30 164.08) scale(0.962 1)">R1-G05-P1-C1</text>
<text class="b" font-size="10.7" text-anchor="start" transform="translate(478.40 164.08) scale(0.962 1)">R1-G05-P1-C2</text>
<text class="d" font-size="11.5" text-anchor="middle" transform="translate(399.60 177.38) scale(0.87 1)">0A1</text>
<text class="d" font-size="11.5" text-anchor="middle" transform="translate(420.40 177.38) scale(0.87 1)">0a1</text>
<text class="d" font-size="11.5" text-anchor="middle" transform="translate(441.20 177.38) scale(0.87 1)">0A3</text>
<text class="d" font-size="11.5" text-anchor="middle" transform="translate(463.20 177.38) scale(0.87 1)">0a3</text>
<text class="d" font-size="11.5" text-anchor="middle" transform="translate(482.92 177.38) scale(0.87 1)">0A2</text>
<text class="d" font-size="11.5" text-anchor="middle" transform="translate(503.97 177.38) scale(0.87 1)">0a2</text>
<text class="d" font-size="11.5" text-anchor="middle" transform="translate(525.02 177.38) scale(0.87 1)">0A4</text>
<text class="d" font-size="11.5" text-anchor="middle" transform="translate(546.07 177.38) scale(0.87 1)">0a4</text>
<rect x="389.20" y="180.25" width="167.40" height="14.10" fill="#ffff00"/>
<line x1="389.20" y1="194.70" x2="556.60" y2="194.70" stroke="#000" stroke-width="1.0"/>
<line x1="410.00" y1="194.75" x2="410.00" y2="208.02" stroke="#222" stroke-width="1.0"/>
<line x1="430.80" y1="194.75" x2="430.80" y2="208.02" stroke="#222" stroke-width="1.0"/>
<line x1="451.60" y1="194.75" x2="451.60" y2="208.02" stroke="#222" stroke-width="1.0"/>
<line x1="493.45" y1="194.75" x2="493.45" y2="208.02" stroke="#222" stroke-width="1.0"/>
<line x1="514.50" y1="194.75" x2="514.50" y2="208.02" stroke="#222" stroke-width="1.0"/>
<line x1="535.55" y1="194.75" x2="535.55" y2="208.02" stroke="#222" stroke-width="1.0"/>
<text class="b" font-size="10.7" text-anchor="start" transform="translate(395.30 191.85) scale(0.962 1)">R1-G06-P1-C1</text>
<text class="b" font-size="10.7" text-anchor="start" transform="translate(478.40 191.85) scale(0.962 1)">R1-G06-P1-C2</text>
<text class="d" font-size="11.5" text-anchor="middle" transform="translate(399.60 205.15) scale(0.87 1)">0B1</text>
<text class="d" font-size="11.5" text-anchor="middle" transform="translate(420.40 205.15) scale(0.87 1)">0b1</text>
<text class="d" font-size="11.5" text-anchor="middle" transform="translate(441.20 205.15) scale(0.87 1)">0B3</text>
<text class="d" font-size="11.5" text-anchor="middle" transform="translate(463.20 205.15) scale(0.87 1)">0b3</text>
<text class="d" font-size="11.5" text-anchor="middle" transform="translate(482.92 205.15) scale(0.87 1)">0B2</text>
<text class="d" font-size="11.5" text-anchor="middle" transform="translate(503.97 205.15) scale(0.87 1)">0b2</text>
<text class="d" font-size="11.5" text-anchor="middle" transform="translate(525.02 205.15) scale(0.87 1)">0B4</text>
<text class="d" font-size="11.5" text-anchor="middle" transform="translate(546.07 205.15) scale(0.87 1)">0b4</text>
<rect x="389.20" y="208.02" width="167.40" height="14.10" fill="#ff99cc"/>
<line x1="389.20" y1="222.47" x2="556.60" y2="222.47" stroke="#000" stroke-width="1.0"/>
<line x1="410.00" y1="222.52" x2="410.00" y2="235.79" stroke="#222" stroke-width="1.0"/>
<line x1="430.80" y1="222.52" x2="430.80" y2="235.79" stroke="#222" stroke-width="1.0"/>
<line x1="451.60" y1="222.52" x2="451.60" y2="235.79" stroke="#222" stroke-width="1.0"/>
<line x1="493.45" y1="222.52" x2="493.45" y2="235.79" stroke="#222" stroke-width="1.0"/>
<line x1="514.50" y1="222.52" x2="514.50" y2="235.79" stroke="#222" stroke-width="1.0"/>
<line x1="535.55" y1="222.52" x2="535.55" y2="235.79" stroke="#222" stroke-width="1.0"/>
<text class="b" font-size="10.7" text-anchor="start" transform="translate(395.30 219.62) scale(0.962 1)">R1-G07-P1-C1</text>
<text class="b" font-size="10.7" text-anchor="start" transform="translate(479.60 219.62) scale(0.962 1)">R1-G07-P1-C2</text>
<text class="d" font-size="11.5" text-anchor="middle" transform="translate(399.60 232.92) scale(0.87 1)">2A1</text>
<text class="d" font-size="11.5" text-anchor="middle" transform="translate(420.40 232.92) scale(0.87 1)">2a1</text>
<text class="d" font-size="11.5" text-anchor="middle" transform="translate(441.20 232.92) scale(0.87 1)">2A3</text>
<text class="d" font-size="11.5" text-anchor="middle" transform="translate(463.20 232.92) scale(0.87 1)">2a3</text>
<text class="d" font-size="11.5" text-anchor="middle" transform="translate(482.92 232.92) scale(0.87 1)">2A2</text>
<text class="d" font-size="11.5" text-anchor="middle" transform="translate(503.97 232.92) scale(0.87 1)">2a2</text>
<text class="d" font-size="11.5" text-anchor="middle" transform="translate(525.02 232.92) scale(0.87 1)">2A4</text>
<text class="d" font-size="11.5" text-anchor="middle" transform="translate(546.07 232.92) scale(0.87 1)">2a4</text>
<rect x="389.20" y="235.79" width="167.40" height="14.10" fill="#ff99cc"/>
<line x1="389.20" y1="250.24" x2="556.60" y2="250.24" stroke="#000" stroke-width="1.0"/>
<line x1="410.00" y1="250.29" x2="410.00" y2="263.00" stroke="#222" stroke-width="1.0"/>
<line x1="430.80" y1="250.29" x2="430.80" y2="263.00" stroke="#222" stroke-width="1.0"/>
<line x1="451.60" y1="250.29" x2="451.60" y2="263.00" stroke="#222" stroke-width="1.0"/>
<line x1="493.45" y1="250.29" x2="493.45" y2="263.00" stroke="#222" stroke-width="1.0"/>
<line x1="514.50" y1="250.29" x2="514.50" y2="263.00" stroke="#222" stroke-width="1.0"/>
<line x1="535.55" y1="250.29" x2="535.55" y2="263.00" stroke="#222" stroke-width="1.0"/>
<text class="b" font-size="10.7" text-anchor="start" transform="translate(396.40 247.39) scale(0.962 1)">R1-G08-P1-C1</text>
<text class="b" font-size="10.7" text-anchor="start" transform="translate(478.20 247.39) scale(0.962 1)">R1-G08-P1-C2</text>
<text class="d" font-size="11.5" text-anchor="middle" transform="translate(399.60 260.69) scale(0.87 1)">2B1</text>
<text class="d" font-size="11.5" text-anchor="middle" transform="translate(420.40 260.69) scale(0.87 1)">2b1</text>
<text class="d" font-size="11.5" text-anchor="middle" transform="translate(441.20 260.69) scale(0.87 1)">2B3</text>
<text class="d" font-size="11.5" text-anchor="middle" transform="translate(463.20 260.69) scale(0.87 1)">2b3</text>
<text class="d" font-size="11.5" text-anchor="middle" transform="translate(482.92 260.69) scale(0.87 1)">2B2</text>
<text class="d" font-size="11.5" text-anchor="middle" transform="translate(503.97 260.69) scale(0.87 1)">2b2</text>
<text class="d" font-size="11.5" text-anchor="middle" transform="translate(525.02 260.69) scale(0.87 1)">2B4</text>
<text class="d" font-size="11.5" text-anchor="middle" transform="translate(546.07 260.69) scale(0.87 1)">2b4</text>
<line x1="389.20" y1="69.17" x2="556.60" y2="69.17" stroke="#000" stroke-width="1.8"/>
<line x1="389.20" y1="96.94" x2="556.60" y2="96.94" stroke="#000" stroke-width="1.8"/>
<line x1="389.20" y1="124.71" x2="556.60" y2="124.71" stroke="#000" stroke-width="1.8"/>
<line x1="389.20" y1="152.48" x2="556.60" y2="152.48" stroke="#000" stroke-width="1.8"/>
<line x1="389.20" y1="180.25" x2="556.60" y2="180.25" stroke="#000" stroke-width="1.8"/>
<line x1="389.20" y1="208.02" x2="556.60" y2="208.02" stroke="#000" stroke-width="1.8"/>
<line x1="389.20" y1="235.79" x2="556.60" y2="235.79" stroke="#000" stroke-width="1.8"/>
<line x1="472.40" y1="41.40" x2="472.40" y2="263.00" stroke="#000" stroke-width="1.9"/>
<rect x="389.20" y="41.40" width="167.40" height="221.60" fill="none" stroke="#000" stroke-width="1.8"/>
<rect x="368.70" y="277.10" width="208.80" height="13.87" fill="#00ff00"/>
<text class="b" x="390.15" y="288.70" font-size="12.4" text-anchor="middle">17A</text>
<text class="b" x="442.45" y="288.70" font-size="12.4" text-anchor="middle">B01-C1</text>
<text class="b" x="506.00" y="288.70" font-size="12.4" text-anchor="middle">B01-C2</text>
<text class="b" x="556.80" y="288.70" font-size="12.4" text-anchor="middle">17B</text>
<rect x="368.70" y="290.97" width="208.80" height="13.87" fill="#00ccff"/>
<text class="b" x="390.15" y="302.17" font-size="12.4" text-anchor="middle">19A</text>
<text class="b" x="442.45" y="302.17" font-size="12.4" text-anchor="middle">B02-C1</text>
<text class="b" x="506.00" y="302.17" font-size="12.4" text-anchor="middle">B02-C2</text>
<text class="b" x="556.80" y="302.17" font-size="12.4" text-anchor="middle">19B</text>
<rect x="368.70" y="304.84" width="208.80" height="13.87" fill="#ffff00"/>
<text class="b" x="390.15" y="315.84" font-size="12.4" text-anchor="middle">16A</text>
<text class="b" x="442.45" y="315.84" font-size="12.4" text-anchor="middle">B03-C1</text>
<text class="b" x="506.00" y="315.84" font-size="12.4" text-anchor="middle">B03-C2</text>
<text class="b" x="556.80" y="315.84" font-size="12.4" text-anchor="middle">16B</text>
<rect x="368.70" y="318.71" width="208.80" height="13.87" fill="#ff99cc"/>
<text class="b" x="390.15" y="330.51" font-size="12.4" text-anchor="middle">18A</text>
<text class="b" x="442.45" y="330.51" font-size="12.4" text-anchor="middle">B04-C1</text>
<text class="b" x="506.00" y="330.51" font-size="12.4" text-anchor="middle">B04-C2</text>
<text class="b" x="556.80" y="330.51" font-size="12.4" text-anchor="middle">18B</text>
<line x1="368.70" y1="290.97" x2="577.50" y2="290.97" stroke="#000" stroke-width="0.9"/>
<line x1="368.70" y1="304.84" x2="577.50" y2="304.84" stroke="#000" stroke-width="0.9"/>
<line x1="368.70" y1="318.71" x2="577.50" y2="318.71" stroke="#000" stroke-width="0.9"/>
<line x1="410.20" y1="277.10" x2="410.20" y2="332.58" stroke="#000" stroke-width="1.0"/>
<line x1="535.50" y1="277.10" x2="535.50" y2="332.58" stroke="#000" stroke-width="1.0"/>
<line x1="473.10" y1="277.10" x2="473.10" y2="332.58" stroke="#000" stroke-width="1.9"/>
<rect x="368.70" y="277.10" width="208.80" height="55.48" fill="none" stroke="#000" stroke-width="1.8"/>
<rect x="347.90" y="457.80" width="250.40" height="152.00" fill="#fff"/>
<text class="r" x="354.60" y="468.40" font-size="10.3">(1B1-Cx)</text>
<text class="r" x="354.60" y="480.60" font-size="10.0">R1-XI1-P1-Cx</text>
<rect x="389.30" y="499.30" width="20.80" height="13.40" fill="#ffff00"/>
<rect x="389.30" y="568.50" width="20.80" height="13.60" fill="#ffff00"/>
<text class="b" font-size="12.1" text-anchor="middle" transform="translate(399.50 510.80) scale(0.96 1)">C3</text>
<line x1="389.30" y1="512.50" x2="410.10" y2="512.50" stroke="#111" stroke-width="1.0"/>
<line x1="389.30" y1="526.50" x2="410.10" y2="526.50" stroke="#111" stroke-width="1.0"/>
<line x1="389.30" y1="540.50" x2="410.10" y2="540.50" stroke="#111" stroke-width="1.0"/>
<line x1="389.30" y1="554.50" x2="410.10" y2="554.50" stroke="#111" stroke-width="1.0"/>
<line x1="389.30" y1="568.50" x2="410.10" y2="568.50" stroke="#111" stroke-width="1.0"/>
<text class="c" font-size="9.7" text-anchor="middle" transform="translate(399.20 523.40) scale(0.955 1)">0A1</text>
<text class="c" font-size="9.7" text-anchor="middle" transform="translate(399.40 537.20) scale(0.955 1)">0A2</text>
<text class="c" font-size="9.7" text-anchor="middle" transform="translate(400.40 552.60) scale(0.955 1)">0B1</text>
<text class="c" font-size="9.7" text-anchor="middle" transform="translate(400.30 566.20) scale(0.955 1)">0B2</text>
<rect x="452.10" y="499.30" width="21.00" height="13.40" fill="#00ff00"/>
<rect x="452.10" y="568.50" width="21.00" height="13.60" fill="#00ff00"/>
<text class="b" font-size="12.1" text-anchor="middle" transform="translate(462.90 510.80) scale(0.96 1)">C6</text>
<line x1="452.10" y1="512.50" x2="473.10" y2="512.50" stroke="#111" stroke-width="1.0"/>
<line x1="452.10" y1="526.50" x2="473.10" y2="526.50" stroke="#111" stroke-width="1.0"/>
<line x1="452.10" y1="540.50" x2="473.10" y2="540.50" stroke="#111" stroke-width="1.0"/>
<line x1="452.10" y1="554.50" x2="473.10" y2="554.50" stroke="#111" stroke-width="1.0"/>
<line x1="452.10" y1="568.50" x2="473.10" y2="568.50" stroke="#111" stroke-width="1.0"/>
<text class="c" font-size="9.7" text-anchor="middle" transform="translate(462.80 523.00) scale(0.955 1)">1A1</text>
<text class="c" font-size="9.7" text-anchor="middle" transform="translate(462.40 537.30) scale(0.955 1)">1A2</text>
<text class="c" font-size="9.7" text-anchor="middle" transform="translate(462.60 550.70) scale(0.955 1)">1B1</text>
<text class="c" font-size="9.7" text-anchor="middle" transform="translate(463.00 564.60) scale(0.955 1)">1B2</text>
<line x1="368.40" y1="499.30" x2="368.40" y2="582.10" stroke="#000" stroke-width="1.85"/>
<line x1="389.30" y1="499.30" x2="389.30" y2="582.10" stroke="#000" stroke-width="1.85"/>
<line x1="410.10" y1="499.30" x2="410.10" y2="582.10" stroke="#000" stroke-width="1.85"/>
<line x1="431.30" y1="499.30" x2="431.30" y2="582.10" stroke="#000" stroke-width="1.85"/>
<line x1="452.10" y1="499.30" x2="452.10" y2="582.10" stroke="#000" stroke-width="1.85"/>
<rect x="389.30" y="596.30" width="42.00" height="13.50" fill="#ffff00"/>
<line x1="389.30" y1="596.30" x2="431.30" y2="596.30" stroke="#000" stroke-width="0.7"/>
<text class="b" x="410.30" y="593.70" font-size="11.2" text-anchor="middle">C7-T5</text>
<text class="b" x="409.30" y="607.10" font-size="11.2" text-anchor="middle">16 A</text>
<rect x="431.30" y="596.30" width="41.80" height="13.50" fill="#00ff00"/>
<line x1="431.30" y1="596.30" x2="473.10" y2="596.30" stroke="#000" stroke-width="0.7"/>
<text class="b" x="452.10" y="593.70" font-size="11.2" text-anchor="middle">C7-T6</text>
<text class="b" x="450.40" y="607.10" font-size="11.2" text-anchor="middle">17B</text>
<line x1="389.30" y1="582.10" x2="389.30" y2="609.80" stroke="#000" stroke-width="1.85"/>
<line x1="431.30" y1="582.10" x2="431.30" y2="609.80" stroke="#000" stroke-width="1.85"/>
<text class="r" x="478.70" y="468.40" font-size="10.3">(1B2-Cx)</text>
<text class="r" x="478.70" y="480.60" font-size="10.0">R1-XI2-P1-Cx</text>
<rect x="514.50" y="499.30" width="20.80" height="13.40" fill="#00ff00"/>
<rect x="514.50" y="568.50" width="20.80" height="13.60" fill="#00ff00"/>
<text class="b" font-size="12.1" text-anchor="middle" transform="translate(524.70 510.80) scale(0.96 1)">C3</text>
<line x1="514.50" y1="512.50" x2="535.30" y2="512.50" stroke="#111" stroke-width="1.0"/>
<line x1="514.50" y1="526.50" x2="535.30" y2="526.50" stroke="#111" stroke-width="1.0"/>
<line x1="514.50" y1="540.50" x2="535.30" y2="540.50" stroke="#111" stroke-width="1.0"/>
<line x1="514.50" y1="554.50" x2="535.30" y2="554.50" stroke="#111" stroke-width="1.0"/>
<line x1="514.50" y1="568.50" x2="535.30" y2="568.50" stroke="#111" stroke-width="1.0"/>
<text class="c" font-size="9.7" text-anchor="middle" transform="translate(524.40 523.40) scale(0.955 1)">1a1</text>
<text class="c" font-size="9.7" text-anchor="middle" transform="translate(524.60 537.20) scale(0.955 1)">1a2</text>
<text class="c" font-size="9.7" text-anchor="middle" transform="translate(525.60 552.60) scale(0.955 1)">1b1</text>
<text class="c" font-size="9.7" text-anchor="middle" transform="translate(525.50 566.20) scale(0.955 1)">1b2</text>
<rect x="577.30" y="499.30" width="21.00" height="13.40" fill="#ffff00"/>
<rect x="577.30" y="568.50" width="21.00" height="13.60" fill="#ffff00"/>
<text class="b" font-size="12.1" text-anchor="middle" transform="translate(588.10 510.80) scale(0.96 1)">C6</text>
<line x1="577.30" y1="512.50" x2="598.30" y2="512.50" stroke="#111" stroke-width="1.0"/>
<line x1="577.30" y1="526.50" x2="598.30" y2="526.50" stroke="#111" stroke-width="1.0"/>
<line x1="577.30" y1="540.50" x2="598.30" y2="540.50" stroke="#111" stroke-width="1.0"/>
<line x1="577.30" y1="554.50" x2="598.30" y2="554.50" stroke="#111" stroke-width="1.0"/>
<line x1="577.30" y1="568.50" x2="598.30" y2="568.50" stroke="#111" stroke-width="1.0"/>
<text class="c" font-size="9.7" text-anchor="middle" transform="translate(588.00 523.70) scale(0.955 1)">0a1</text>
<text class="c" font-size="9.7" text-anchor="middle" transform="translate(587.60 537.70) scale(0.955 1)">0a2</text>
<text class="c" font-size="9.7" text-anchor="middle" transform="translate(587.80 551.60) scale(0.955 1)">0b1</text>
<text class="c" font-size="9.7" text-anchor="middle" transform="translate(588.20 565.10) scale(0.955 1)">0b2</text>
<line x1="493.60" y1="499.30" x2="493.60" y2="582.10" stroke="#000" stroke-width="1.85"/>
<line x1="514.50" y1="499.30" x2="514.50" y2="582.10" stroke="#000" stroke-width="1.85"/>
<line x1="535.30" y1="499.30" x2="535.30" y2="582.10" stroke="#000" stroke-width="1.85"/>
<line x1="556.50" y1="499.30" x2="556.50" y2="582.10" stroke="#000" stroke-width="1.85"/>
<line x1="577.30" y1="499.30" x2="577.30" y2="582.10" stroke="#000" stroke-width="1.85"/>
<rect x="514.50" y="596.30" width="42.00" height="13.50" fill="#00ff00"/>
<line x1="514.50" y1="596.30" x2="556.50" y2="596.30" stroke="#000" stroke-width="0.7"/>
<text class="b" x="535.50" y="593.70" font-size="11.2" text-anchor="middle">C7-T5</text>
<text class="b" x="534.50" y="607.10" font-size="11.2" text-anchor="middle">17 A</text>
<rect x="556.50" y="596.30" width="41.80" height="13.50" fill="#ffff00"/>
<line x1="556.50" y1="596.30" x2="598.30" y2="596.30" stroke="#000" stroke-width="0.7"/>
<text class="b" x="575.20" y="593.70" font-size="11.2" text-anchor="middle">C7-T6</text>
<text class="b" x="576.00" y="607.10" font-size="11.2" text-anchor="middle">16B</text>
<line x1="514.50" y1="582.10" x2="514.50" y2="609.80" stroke="#000" stroke-width="1.85"/>
<line x1="556.50" y1="582.10" x2="556.50" y2="609.80" stroke="#000" stroke-width="1.85"/>
<line x1="347.90" y1="499.30" x2="598.30" y2="499.30" stroke="#2a2a2a" stroke-width="1.4"/>
<line x1="347.90" y1="582.10" x2="598.30" y2="582.10" stroke="#000" stroke-width="1.9"/>
<line x1="473.10" y1="457.80" x2="473.10" y2="609.80" stroke="#000" stroke-width="1.9"/>
<rect x="347.90" y="457.80" width="250.40" height="152.00" fill="none" stroke="#000" stroke-width="1.9"/>
<rect x="347.90" y="624.10" width="250.40" height="152.10" fill="#fff"/>
<text class="r" x="353.60" y="635.20" font-size="10.3">(1B3-Cx)</text>
<text class="r" x="353.60" y="649.10" font-size="10.0">R1-XI3-P1-Cx</text>
<rect x="389.30" y="665.60" width="20.80" height="13.40" fill="#ff99cc"/>
<rect x="389.30" y="735.40" width="20.80" height="13.60" fill="#ff99cc"/>
<text class="b" font-size="12.1" text-anchor="middle" transform="translate(399.50 677.10) scale(0.96 1)">C3</text>
<line x1="389.30" y1="678.50" x2="410.10" y2="678.50" stroke="#111" stroke-width="1.0"/>
<line x1="389.30" y1="692.50" x2="410.10" y2="692.50" stroke="#111" stroke-width="1.0"/>
<line x1="389.30" y1="706.50" x2="410.10" y2="706.50" stroke="#111" stroke-width="1.0"/>
<line x1="389.30" y1="720.50" x2="410.10" y2="720.50" stroke="#111" stroke-width="1.0"/>
<line x1="389.30" y1="734.50" x2="410.10" y2="734.50" stroke="#111" stroke-width="1.0"/>
<text class="c" font-size="9.7" text-anchor="middle" transform="translate(399.20 689.70) scale(0.955 1)">2A1</text>
<text class="c" font-size="9.7" text-anchor="middle" transform="translate(399.40 703.50) scale(0.955 1)">2A2</text>
<text class="c" font-size="9.7" text-anchor="middle" transform="translate(400.40 718.90) scale(0.955 1)">2B1</text>
<text class="c" font-size="9.7" text-anchor="middle" transform="translate(400.30 732.50) scale(0.955 1)">2B2</text>
<rect x="452.10" y="665.60" width="21.00" height="13.40" fill="#00ccff"/>
<rect x="452.10" y="735.40" width="21.00" height="13.60" fill="#00ccff"/>
<text class="b" font-size="12.1" text-anchor="middle" transform="translate(462.90 677.10) scale(0.96 1)">C6</text>
<line x1="452.10" y1="678.50" x2="473.10" y2="678.50" stroke="#111" stroke-width="1.0"/>
<line x1="452.10" y1="692.50" x2="473.10" y2="692.50" stroke="#111" stroke-width="1.0"/>
<line x1="452.10" y1="706.50" x2="473.10" y2="706.50" stroke="#111" stroke-width="1.0"/>
<line x1="452.10" y1="720.50" x2="473.10" y2="720.50" stroke="#111" stroke-width="1.0"/>
<line x1="452.10" y1="734.50" x2="473.10" y2="734.50" stroke="#111" stroke-width="1.0"/>
<text class="c" font-size="9.7" text-anchor="middle" transform="translate(462.80 690.00) scale(0.955 1)">3A1</text>
<text class="c" font-size="9.7" text-anchor="middle" transform="translate(462.40 704.00) scale(0.955 1)">3A2</text>
<text class="c" font-size="9.7" text-anchor="middle" transform="translate(462.60 717.90) scale(0.955 1)">3B1</text>
<text class="c" font-size="9.7" text-anchor="middle" transform="translate(463.00 731.40) scale(0.955 1)">3B2</text>
<line x1="368.40" y1="665.60" x2="368.40" y2="749.00" stroke="#000" stroke-width="1.85"/>
<line x1="389.30" y1="665.60" x2="389.30" y2="749.00" stroke="#000" stroke-width="1.85"/>
<line x1="410.10" y1="665.60" x2="410.10" y2="749.00" stroke="#000" stroke-width="1.85"/>
<line x1="431.30" y1="665.60" x2="431.30" y2="749.00" stroke="#000" stroke-width="1.85"/>
<line x1="452.10" y1="665.60" x2="452.10" y2="749.00" stroke="#000" stroke-width="1.85"/>
<rect x="389.30" y="763.20" width="42.00" height="13.00" fill="#ff99cc"/>
<line x1="389.30" y1="763.20" x2="431.30" y2="763.20" stroke="#000" stroke-width="0.7"/>
<text class="b" x="409.40" y="760.60" font-size="11.2" text-anchor="middle">C7-T5</text>
<text class="b" x="410.50" y="774.00" font-size="11.2" text-anchor="middle">18A</text>
<rect x="431.30" y="763.20" width="41.80" height="13.00" fill="#00ccff"/>
<line x1="431.30" y1="763.20" x2="473.10" y2="763.20" stroke="#000" stroke-width="0.7"/>
<text class="b" x="452.90" y="760.60" font-size="11.2" text-anchor="middle">C7-T6</text>
<text class="b" x="452.90" y="774.00" font-size="11.2" text-anchor="middle">19B</text>
<line x1="389.30" y1="749.00" x2="389.30" y2="776.20" stroke="#000" stroke-width="1.85"/>
<line x1="431.30" y1="749.00" x2="431.30" y2="776.20" stroke="#000" stroke-width="1.85"/>
<text class="r" x="478.80" y="635.20" font-size="10.3">(1B4-Cx)</text>
<text class="r" x="478.80" y="649.10" font-size="10.0">R1-XI4-P1-Cx</text>
<rect x="514.50" y="665.60" width="20.80" height="13.40" fill="#00ccff"/>
<rect x="514.50" y="735.40" width="20.80" height="13.60" fill="#00ccff"/>
<text class="b" font-size="12.1" text-anchor="middle" transform="translate(524.70 677.10) scale(0.96 1)">C3</text>
<line x1="514.50" y1="678.50" x2="535.30" y2="678.50" stroke="#111" stroke-width="1.0"/>
<line x1="514.50" y1="692.50" x2="535.30" y2="692.50" stroke="#111" stroke-width="1.0"/>
<line x1="514.50" y1="706.50" x2="535.30" y2="706.50" stroke="#111" stroke-width="1.0"/>
<line x1="514.50" y1="720.50" x2="535.30" y2="720.50" stroke="#111" stroke-width="1.0"/>
<line x1="514.50" y1="734.50" x2="535.30" y2="734.50" stroke="#111" stroke-width="1.0"/>
<text class="c" font-size="9.7" text-anchor="middle" transform="translate(524.40 689.70) scale(0.955 1)">3a1</text>
<text class="c" font-size="9.7" text-anchor="middle" transform="translate(524.60 703.50) scale(0.955 1)">3a2</text>
<text class="c" font-size="9.7" text-anchor="middle" transform="translate(525.60 718.90) scale(0.955 1)">3b1</text>
<text class="c" font-size="9.7" text-anchor="middle" transform="translate(525.50 732.50) scale(0.955 1)">3b2</text>
<rect x="577.30" y="665.60" width="21.00" height="13.40" fill="#ff99cc"/>
<rect x="577.30" y="735.40" width="21.00" height="13.60" fill="#ff99cc"/>
<text class="b" font-size="12.1" text-anchor="middle" transform="translate(588.10 677.10) scale(0.96 1)">C6</text>
<line x1="577.30" y1="678.50" x2="598.30" y2="678.50" stroke="#111" stroke-width="1.0"/>
<line x1="577.30" y1="692.50" x2="598.30" y2="692.50" stroke="#111" stroke-width="1.0"/>
<line x1="577.30" y1="706.50" x2="598.30" y2="706.50" stroke="#111" stroke-width="1.0"/>
<line x1="577.30" y1="720.50" x2="598.30" y2="720.50" stroke="#111" stroke-width="1.0"/>
<line x1="577.30" y1="734.50" x2="598.30" y2="734.50" stroke="#111" stroke-width="1.0"/>
<text class="c" font-size="9.7" text-anchor="middle" transform="translate(588.00 690.00) scale(0.955 1)">2a1</text>
<text class="c" font-size="9.7" text-anchor="middle" transform="translate(587.60 704.00) scale(0.955 1)">2a2</text>
<text class="c" font-size="9.7" text-anchor="middle" transform="translate(587.80 717.90) scale(0.955 1)">2b1</text>
<text class="c" font-size="9.7" text-anchor="middle" transform="translate(588.20 731.40) scale(0.955 1)">2b2</text>
<line x1="493.60" y1="665.60" x2="493.60" y2="749.00" stroke="#000" stroke-width="1.85"/>
<line x1="514.50" y1="665.60" x2="514.50" y2="749.00" stroke="#000" stroke-width="1.85"/>
<line x1="535.30" y1="665.60" x2="535.30" y2="749.00" stroke="#000" stroke-width="1.85"/>
<line x1="556.50" y1="665.60" x2="556.50" y2="749.00" stroke="#000" stroke-width="1.85"/>
<line x1="577.30" y1="665.60" x2="577.30" y2="749.00" stroke="#000" stroke-width="1.85"/>
<rect x="514.50" y="763.20" width="42.00" height="13.00" fill="#00ccff"/>
<line x1="514.50" y1="763.20" x2="556.50" y2="763.20" stroke="#000" stroke-width="0.7"/>
<text class="b" x="534.90" y="760.60" font-size="11.2" text-anchor="middle">C7-T5</text>
<text class="b" x="535.50" y="774.00" font-size="11.2" text-anchor="middle">19A</text>
<rect x="556.50" y="763.20" width="41.80" height="13.00" fill="#ff99cc"/>
<line x1="556.50" y1="763.20" x2="598.30" y2="763.20" stroke="#000" stroke-width="0.7"/>
<text class="b" x="578.70" y="760.60" font-size="11.2" text-anchor="middle">C7-T6</text>
<text class="b" x="578.20" y="774.00" font-size="11.2" text-anchor="middle">18B</text>
<line x1="514.50" y1="749.00" x2="514.50" y2="776.20" stroke="#000" stroke-width="1.85"/>
<line x1="556.50" y1="749.00" x2="556.50" y2="776.20" stroke="#000" stroke-width="1.85"/>
<line x1="347.90" y1="665.60" x2="598.30" y2="665.60" stroke="#2a2a2a" stroke-width="1.4"/>
<line x1="347.90" y1="749.00" x2="598.30" y2="749.00" stroke="#000" stroke-width="1.9"/>
<line x1="473.10" y1="624.10" x2="473.10" y2="776.20" stroke="#000" stroke-width="1.9"/>
<rect x="347.90" y="624.10" width="250.40" height="152.10" fill="none" stroke="#000" stroke-width="1.9"/>
<text class="b" font-size="12.3" text-anchor="start" transform="translate(624.60 38.10) scale(0.9 1)">FC-AL cable color codes for</text>
<text class="b" font-size="12.3" text-anchor="start" transform="translate(624.60 50.60) scale(0.9 1)">storage enclosure</text>
<text class="b" font-size="12.3" text-anchor="start" transform="translate(624.60 65.60) scale(0.9 1)">Fibre Channel interface cards</text>
<rect x="625.30" y="83.40" width="20.35" height="13.60" fill="#ffffcc"/>
<text class="b" font-size="9.6" text-anchor="middle" transform="translate(634.97 93.90) scale(0.9 1)">T1</text>
<rect x="645.65" y="83.40" width="20.35" height="13.60" fill="#00ff00"/>
<text class="b" font-size="9.6" text-anchor="middle" transform="translate(655.32 93.90) scale(0.9 1)">T2</text>
<rect x="666.00" y="83.40" width="20.35" height="13.60" fill="#000"/>
<text class="w" font-size="9.6" text-anchor="middle" transform="translate(675.67 93.90) scale(0.9 1)">T3</text>
<rect x="686.35" y="83.40" width="20.35" height="13.60" fill="#00ccff"/>
<text class="b" font-size="9.6" text-anchor="middle" transform="translate(696.02 93.90) scale(0.9 1)">T4</text>
<line x1="645.65" y1="83.40" x2="645.65" y2="97.00" stroke="#333" stroke-width="0.6"/>
<line x1="666.00" y1="83.40" x2="666.00" y2="97.00" stroke="#333" stroke-width="0.6"/>
<line x1="686.35" y1="83.40" x2="686.35" y2="97.00" stroke="#333" stroke-width="0.6"/>
<rect x="625.30" y="83.40" width="81.40" height="13.60" fill="none" stroke="#222" stroke-width="1.1"/>
<text class="b" font-size="12.3" text-anchor="start" transform="translate(624.60 136.00) scale(0.9 1)">FC-AL DA pair</text>
<text class="b" font-size="12.3" text-anchor="start" transform="translate(624.60 148.80) scale(0.9 1)">color codes</text>
<rect x="625.60" y="166.30" width="19.80" height="13.95" fill="#ffff00"/>
<text class="b" font-size="12.3" text-anchor="start" transform="translate(650.80 176.90) scale(0.9 1)">DA Pair 0</text>
<rect x="625.60" y="180.25" width="19.80" height="13.95" fill="#00ff00"/>
<text class="b" font-size="12.3" text-anchor="start" transform="translate(650.80 191.35) scale(0.9 1)">DA Pair 1</text>
<rect x="625.60" y="194.20" width="19.80" height="13.95" fill="#ff99cc"/>
<text class="b" font-size="12.3" text-anchor="start" transform="translate(650.80 204.80) scale(0.9 1)">DA Pair 2</text>
<rect x="625.60" y="208.15" width="19.80" height="13.95" fill="#00ccff"/>
<text class="b" font-size="12.3" text-anchor="start" transform="translate(650.80 219.55) scale(0.9 1)">DA Pair 3</text>
<rect x="625.60" y="222.10" width="19.80" height="13.95" fill="#ff9900"/>
<text class="b" font-size="12.3" text-anchor="start" transform="translate(650.80 232.70) scale(0.9 1)">DA Pair 4</text>
<rect x="625.60" y="236.05" width="19.80" height="13.95" fill="#cc99ff"/>
<text class="b" font-size="12.3" text-anchor="start" transform="translate(650.80 247.45) scale(0.9 1)">DA Pair 5</text>
<rect x="625.60" y="250.00" width="19.80" height="13.95" fill="#cccccc"/>
<text class="b" font-size="12.3" text-anchor="start" transform="translate(650.80 260.80) scale(0.9 1)">DA Pair 6</text>
<rect x="625.60" y="263.95" width="19.80" height="13.95" fill="#ff0000"/>
<text class="b" font-size="12.3" text-anchor="start" transform="translate(650.80 274.55) scale(0.9 1)">DA Pair 7</text>
<line x1="625.60" y1="180.25" x2="645.40" y2="180.25" stroke="#000" stroke-width="0.8"/>
<line x1="625.60" y1="194.20" x2="645.40" y2="194.20" stroke="#000" stroke-width="0.8"/>
<line x1="625.60" y1="208.15" x2="645.40" y2="208.15" stroke="#000" stroke-width="0.8"/>
<line x1="625.60" y1="222.10" x2="645.40" y2="222.10" stroke="#000" stroke-width="0.8"/>
<line x1="625.60" y1="236.05" x2="645.40" y2="236.05" stroke="#000" stroke-width="0.8"/>
<line x1="625.60" y1="250.00" x2="645.40" y2="250.00" stroke="#000" stroke-width="0.8"/>
<line x1="625.60" y1="263.95" x2="645.40" y2="263.95" stroke="#000" stroke-width="0.8"/>
<rect x="625.60" y="166.30" width="19.80" height="111.60" fill="none" stroke="#000" stroke-width="1.2"/>
<text class="b" font-size="12.3" text-anchor="start" transform="translate(623.40 314.50) scale(0.9 1)">Flash DA pair</text>
<text class="b" font-size="12.3" text-anchor="start" transform="translate(623.40 328.90) scale(0.9 1)">color codes</text>
<rect x="626.20" y="346.20" width="20.00" height="13.95" fill="#ffff00"/>
<text class="b" font-size="12.3" text-anchor="start" transform="translate(650.80 356.70) scale(0.9 1)">DA Pair 16</text>
<rect x="626.20" y="360.15" width="20.00" height="13.95" fill="#00ff00"/>
<text class="b" font-size="12.3" text-anchor="start" transform="translate(650.80 371.10) scale(0.9 1)">DA Pair 17</text>
<rect x="626.20" y="374.10" width="20.00" height="13.95" fill="#ff99cc"/>
<text class="b" font-size="12.3" text-anchor="start" transform="translate(650.80 384.10) scale(0.9 1)">DA Pair 18</text>
<rect x="626.20" y="388.05" width="20.00" height="13.95" fill="#00ccff"/>
<text class="b" font-size="12.3" text-anchor="start" transform="translate(650.80 398.05) scale(0.9 1)">DA Pair 19</text>
<rect x="626.20" y="402.00" width="20.00" height="13.95" fill="#ff9900"/>
<text class="b" font-size="12.3" text-anchor="start" transform="translate(650.80 412.70) scale(0.9 1)">DA Pair 20</text>
<rect x="626.20" y="415.95" width="20.00" height="13.95" fill="#cc99ff"/>
<text class="b" font-size="12.3" text-anchor="start" transform="translate(650.80 426.15) scale(0.9 1)">DA Pair 21</text>
<rect x="626.20" y="429.90" width="20.00" height="13.95" fill="#cccccc"/>
<text class="b" font-size="12.3" text-anchor="start" transform="translate(650.80 440.40) scale(0.9 1)">DA Pair 22</text>
<rect x="626.20" y="443.85" width="20.00" height="13.95" fill="#ff0000"/>
<text class="b" font-size="12.3" text-anchor="start" transform="translate(650.80 453.85) scale(0.9 1)">DA Pair 23</text>
<line x1="626.20" y1="360.15" x2="646.20" y2="360.15" stroke="#000" stroke-width="1.3"/>
<line x1="626.20" y1="374.10" x2="646.20" y2="374.10" stroke="#000" stroke-width="1.3"/>
<line x1="626.20" y1="388.05" x2="646.20" y2="388.05" stroke="#000" stroke-width="1.3"/>
<line x1="626.20" y1="402.00" x2="646.20" y2="402.00" stroke="#000" stroke-width="1.3"/>
<line x1="626.20" y1="415.95" x2="646.20" y2="415.95" stroke="#000" stroke-width="1.3"/>
<line x1="626.20" y1="429.90" x2="646.20" y2="429.90" stroke="#000" stroke-width="1.3"/>
<line x1="626.20" y1="443.85" x2="646.20" y2="443.85" stroke="#000" stroke-width="1.3"/>
<rect x="626.20" y="346.20" width="20.00" height="111.60" fill="none" stroke="#000" stroke-width="1.7"/>
<text class="b" font-size="12.3" text-anchor="start" transform="translate(624.60 634.60) scale(0.9 1)">FC-AL cable color codes for</text>
<text class="b" font-size="12.3" text-anchor="start" transform="translate(624.60 648.60) scale(0.9 1)">I/O enclosure</text>
<text class="b" font-size="12.3" text-anchor="start" transform="translate(624.60 662.60) scale(0.9 1)">device adapter cards</text>
<rect x="629.60" y="679.30" width="19.80" height="13.75" fill="#ffffcc"/>
<text class="b" font-size="10.3" text-anchor="middle" transform="translate(640.50 690.10) scale(0.87 1)">T1</text>
<rect x="629.60" y="693.05" width="19.80" height="13.75" fill="#00ff00"/>
<text class="b" font-size="10.3" text-anchor="middle" transform="translate(640.60 703.85) scale(0.87 1)">T2</text>
<rect x="629.60" y="706.80" width="19.80" height="13.75" fill="#000"/>
<text class="w" font-size="10.3" text-anchor="middle" transform="translate(639.70 717.60) scale(0.87 1)">T3</text>
<rect x="629.60" y="720.55" width="19.80" height="13.75" fill="#00ccff"/>
<text class="b" font-size="10.3" text-anchor="middle" transform="translate(639.70 731.35) scale(0.87 1)">T4</text>
<line x1="629.60" y1="693.05" x2="649.40" y2="693.05" stroke="#333" stroke-width="0.5"/>
<line x1="629.60" y1="706.80" x2="649.40" y2="706.80" stroke="#333" stroke-width="0.5"/>
<line x1="629.60" y1="720.55" x2="649.40" y2="720.55" stroke="#333" stroke-width="0.5"/>
<rect x="629.60" y="679.30" width="19.80" height="55.00" fill="none" stroke="#222" stroke-width="1.0"/>
<text class="f" font-size="8.8" transform="translate(780.2 798.2) rotate(-90)">f2c02200</text>
</svg>
</body>
</html>
